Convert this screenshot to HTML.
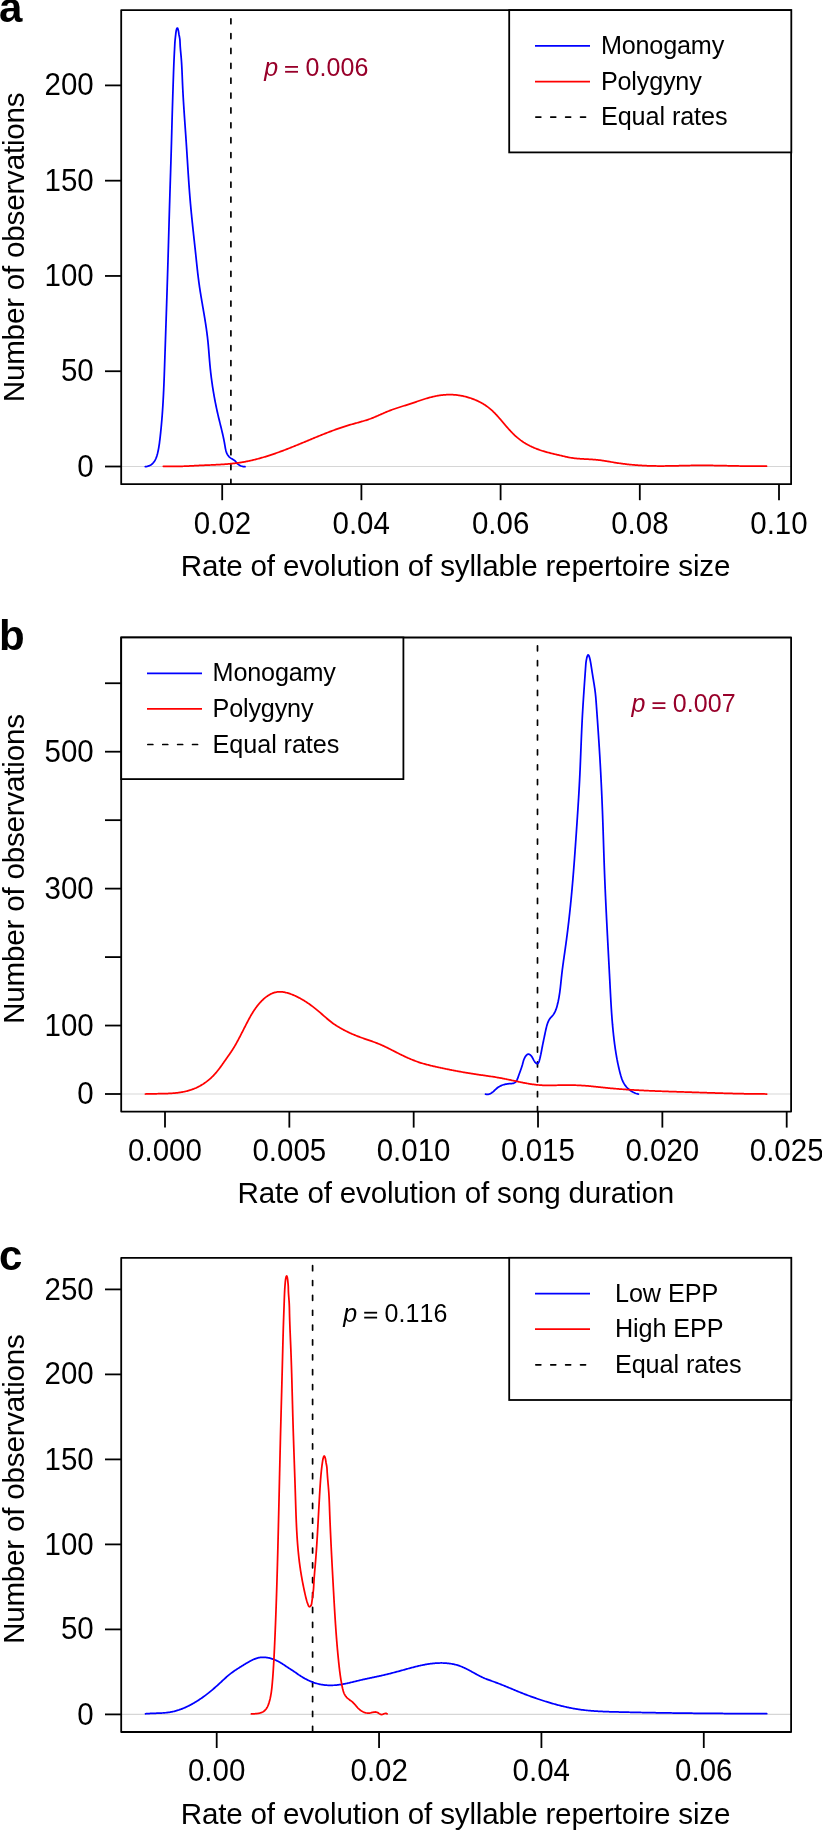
<!DOCTYPE html>
<html><head><meta charset="utf-8"><style>
html,body{margin:0;padding:0;background:#fff;}
svg{display:block;}
svg{will-change:transform;}
text{font-family:"Liberation Sans", sans-serif;font-kerning:none;}
</style></head><body>
<svg width="822" height="1830" viewBox="0 0 822 1830">
<rect width="822" height="1830" fill="#fff"/>
<line x1="121.20" y1="466.50" x2="791.10" y2="466.50" stroke="#d6d6d6" stroke-width="1.2"/>
<line x1="230.90" y1="18.75" x2="230.90" y2="484.20" stroke="#000" stroke-width="1.7" stroke-dasharray="5.0 9.86" stroke-linecap="round"/>
<path d="M145.29,466.60 L146.21,466.52 L147.08,466.38 L147.90,466.19 L148.68,465.94 L149.42,465.65 L150.13,465.31 L150.79,464.93 L151.41,464.50 L152.00,464.04 L152.56,463.53 L153.08,462.99 L153.57,462.42 L154.03,461.81 L154.46,461.18 L154.87,460.52 L155.24,459.83 L155.60,459.12 L155.93,458.39 L156.23,457.65 L156.52,456.88 L156.78,456.11 L157.03,455.32 L157.26,454.52 L157.48,453.71 L157.68,452.90 L157.87,452.09 L158.05,451.28 L158.22,450.46 L158.38,449.65 L158.53,448.85 L158.67,448.05 L158.81,447.25 L158.94,446.45 L159.06,445.66 L159.18,444.87 L159.30,444.09 L159.41,443.30 L159.51,442.52 L159.61,441.73 L159.71,440.95 L159.81,440.17 L159.90,439.39 L159.99,438.60 L160.08,437.82 L160.17,437.03 L160.26,436.25 L160.35,435.46 L160.43,434.67 L160.52,433.88 L160.60,433.09 L160.68,432.30 L160.76,431.51 L160.84,430.71 L160.92,429.92 L161.00,429.12 L161.08,428.33 L161.16,427.53 L161.23,426.74 L161.31,425.94 L161.38,425.14 L161.45,424.34 L161.52,423.54 L161.59,422.74 L161.66,421.94 L161.73,421.14 L161.80,420.34 L161.86,419.54 L161.93,418.74 L161.99,417.94 L162.05,417.14 L162.12,416.34 L162.18,415.53 L162.24,414.73 L162.30,413.93 L162.36,413.13 L162.41,412.33 L162.47,411.53 L162.52,410.73 L162.58,409.92 L162.63,409.12 L162.68,408.32 L162.74,407.52 L162.79,406.72 L162.84,405.92 L162.89,405.12 L162.93,404.32 L162.98,403.52 L163.03,402.71 L163.07,401.91 L163.12,401.11 L163.16,400.31 L163.21,399.51 L163.25,398.71 L163.29,397.91 L163.34,397.11 L163.38,396.31 L163.42,395.51 L163.46,394.71 L163.50,393.91 L163.53,393.11 L163.57,392.31 L163.61,391.51 L163.65,390.71 L163.68,389.91 L163.72,389.11 L163.75,388.31 L163.79,387.51 L163.82,386.71 L163.86,385.91 L163.89,385.10 L163.92,384.30 L163.95,383.50 L163.99,382.70 L164.02,381.90 L164.05,381.10 L164.08,380.30 L164.11,379.50 L164.14,378.70 L164.17,377.90 L164.20,377.10 L164.23,376.30 L164.26,375.51 L164.29,374.71 L164.31,373.91 L164.34,373.11 L164.37,372.31 L164.40,371.51 L164.43,370.71 L164.45,369.91 L164.48,369.11 L164.51,368.31 L164.54,367.51 L164.56,366.71 L164.59,365.91 L164.62,365.11 L164.64,364.31 L164.67,363.51 L164.70,362.71 L164.72,361.91 L164.75,361.11 L164.78,360.31 L164.80,359.51 L164.83,358.71 L164.86,357.91 L164.88,357.11 L164.91,356.31 L164.94,355.51 L164.96,354.71 L164.99,353.91 L165.02,353.10 L165.04,352.30 L165.07,351.50 L165.10,350.70 L165.12,349.90 L165.15,349.10 L165.18,348.30 L165.20,347.50 L165.23,346.70 L165.26,345.90 L165.29,345.10 L165.31,344.30 L165.34,343.50 L165.37,342.70 L165.39,341.90 L165.42,341.10 L165.45,340.30 L165.47,339.50 L165.50,338.70 L165.53,337.90 L165.55,337.10 L165.58,336.30 L165.61,335.50 L165.63,334.70 L165.66,333.90 L165.69,333.10 L165.71,332.30 L165.74,331.50 L165.76,330.70 L165.79,329.89 L165.82,329.09 L165.84,328.29 L165.87,327.49 L165.90,326.69 L165.92,325.89 L165.95,325.09 L165.98,324.29 L166.00,323.49 L166.03,322.69 L166.06,321.89 L166.08,321.09 L166.11,320.29 L166.14,319.49 L166.16,318.69 L166.19,317.89 L166.21,317.09 L166.24,316.28 L166.27,315.48 L166.29,314.68 L166.32,313.88 L166.35,313.08 L166.37,312.28 L166.40,311.48 L166.42,310.68 L166.45,309.88 L166.48,309.08 L166.50,308.28 L166.53,307.48 L166.55,306.68 L166.58,305.88 L166.61,305.08 L166.63,304.27 L166.66,303.47 L166.68,302.67 L166.71,301.87 L166.73,301.07 L166.76,300.27 L166.79,299.47 L166.81,298.67 L166.84,297.87 L166.86,297.07 L166.89,296.27 L166.91,295.47 L166.94,294.67 L166.97,293.87 L166.99,293.06 L167.02,292.26 L167.04,291.46 L167.07,290.66 L167.09,289.86 L167.12,289.06 L167.14,288.26 L167.17,287.46 L167.19,286.66 L167.22,285.86 L167.24,285.06 L167.27,284.26 L167.29,283.46 L167.32,282.65 L167.34,281.85 L167.37,281.05 L167.39,280.25 L167.42,279.45 L167.44,278.65 L167.47,277.85 L167.49,277.05 L167.52,276.25 L167.54,275.45 L167.57,274.65 L167.59,273.85 L167.61,273.05 L167.64,272.25 L167.66,271.44 L167.69,270.64 L167.71,269.84 L167.74,269.04 L167.76,268.24 L167.78,267.44 L167.81,266.64 L167.83,265.84 L167.86,265.04 L167.88,264.24 L167.90,263.44 L167.93,262.64 L167.95,261.84 L167.98,261.04 L168.00,260.23 L168.02,259.43 L168.05,258.63 L168.07,257.83 L168.09,257.03 L168.12,256.23 L168.14,255.43 L168.16,254.63 L168.19,253.83 L168.21,253.03 L168.23,252.23 L168.26,251.43 L168.28,250.63 L168.30,249.83 L168.32,249.03 L168.35,248.23 L168.37,247.42 L168.39,246.62 L168.42,245.82 L168.44,245.02 L168.46,244.22 L168.48,243.42 L168.51,242.62 L168.53,241.82 L168.55,241.02 L168.57,240.22 L168.60,239.42 L168.62,238.62 L168.64,237.82 L168.66,237.02 L168.69,236.22 L168.71,235.42 L168.73,234.62 L168.75,233.82 L168.78,233.02 L168.80,232.21 L168.82,231.41 L168.84,230.61 L168.87,229.81 L168.89,229.01 L168.91,228.21 L168.93,227.41 L168.96,226.61 L168.98,225.81 L169.00,225.01 L169.02,224.21 L169.05,223.41 L169.07,222.61 L169.09,221.81 L169.11,221.01 L169.14,220.21 L169.16,219.41 L169.18,218.61 L169.21,217.81 L169.23,217.00 L169.25,216.20 L169.27,215.40 L169.30,214.60 L169.32,213.80 L169.34,213.00 L169.37,212.20 L169.39,211.40 L169.41,210.60 L169.44,209.80 L169.46,209.00 L169.48,208.20 L169.51,207.40 L169.53,206.60 L169.55,205.80 L169.58,205.00 L169.60,204.20 L169.62,203.40 L169.65,202.60 L169.67,201.79 L169.70,200.99 L169.72,200.19 L169.74,199.39 L169.77,198.59 L169.79,197.79 L169.82,196.99 L169.84,196.19 L169.87,195.39 L169.89,194.59 L169.91,193.79 L169.94,192.99 L169.96,192.19 L169.99,191.39 L170.01,190.59 L170.04,189.79 L170.06,188.99 L170.09,188.19 L170.11,187.38 L170.14,186.58 L170.16,185.78 L170.19,184.98 L170.21,184.18 L170.24,183.38 L170.26,182.58 L170.29,181.78 L170.31,180.98 L170.34,180.18 L170.36,179.38 L170.39,178.58 L170.41,177.78 L170.44,176.98 L170.46,176.18 L170.49,175.37 L170.51,174.57 L170.54,173.77 L170.56,172.97 L170.59,172.17 L170.61,171.37 L170.64,170.57 L170.66,169.77 L170.69,168.97 L170.71,168.17 L170.73,167.37 L170.76,166.57 L170.78,165.77 L170.81,164.97 L170.83,164.17 L170.86,163.37 L170.88,162.56 L170.91,161.76 L170.93,160.96 L170.95,160.16 L170.98,159.36 L171.00,158.56 L171.03,157.76 L171.05,156.96 L171.08,156.16 L171.10,155.36 L171.12,154.56 L171.15,153.76 L171.17,152.96 L171.19,152.16 L171.22,151.35 L171.24,150.55 L171.26,149.75 L171.29,148.95 L171.31,148.15 L171.33,147.35 L171.36,146.55 L171.38,145.75 L171.40,144.95 L171.42,144.15 L171.45,143.35 L171.47,142.55 L171.49,141.75 L171.51,140.95 L171.53,140.15 L171.56,139.34 L171.58,138.54 L171.60,137.74 L171.62,136.94 L171.64,136.14 L171.66,135.34 L171.69,134.54 L171.71,133.74 L171.73,132.94 L171.75,132.14 L171.77,131.34 L171.79,130.54 L171.81,129.74 L171.84,128.94 L171.86,128.14 L171.88,127.33 L171.90,126.53 L171.92,125.73 L171.94,124.93 L171.96,124.13 L171.99,123.33 L172.01,122.53 L172.03,121.73 L172.05,120.93 L172.07,120.13 L172.09,119.33 L172.12,118.53 L172.14,117.73 L172.16,116.93 L172.18,116.13 L172.21,115.33 L172.23,114.53 L172.25,113.73 L172.27,112.92 L172.30,112.12 L172.32,111.32 L172.34,110.52 L172.37,109.72 L172.39,108.92 L172.41,108.12 L172.44,107.32 L172.46,106.52 L172.48,105.72 L172.51,104.92 L172.53,104.12 L172.56,103.32 L172.58,102.52 L172.61,101.72 L172.63,100.92 L172.65,100.12 L172.68,99.32 L172.70,98.52 L172.73,97.72 L172.75,96.92 L172.78,96.12 L172.80,95.32 L172.83,94.51 L172.85,93.71 L172.88,92.91 L172.90,92.11 L172.93,91.31 L172.96,90.51 L172.98,89.71 L173.01,88.91 L173.03,88.11 L173.06,87.31 L173.08,86.51 L173.11,85.71 L173.13,84.91 L173.16,84.11 L173.19,83.30 L173.21,82.50 L173.24,81.70 L173.26,80.90 L173.29,80.10 L173.31,79.30 L173.34,78.50 L173.37,77.70 L173.39,76.90 L173.42,76.10 L173.45,75.29 L173.47,74.49 L173.50,73.69 L173.53,72.89 L173.55,72.09 L173.58,71.29 L173.61,70.49 L173.64,69.69 L173.67,68.89 L173.70,68.09 L173.73,67.29 L173.76,66.49 L173.79,65.69 L173.82,64.89 L173.85,64.09 L173.88,63.29 L173.92,62.49 L173.95,61.69 L173.98,60.89 L174.02,60.09 L174.05,59.29 L174.09,58.49 L174.13,57.69 L174.16,56.90 L174.20,56.10 L174.24,55.30 L174.28,54.50 L174.32,53.70 L174.36,52.91 L174.40,52.11 L174.44,51.31 L174.49,50.51 L174.53,49.71 L174.57,48.91 L174.61,48.10 L174.65,47.30 L174.69,46.49 L174.73,45.68 L174.77,44.87 L174.81,44.06 L174.86,43.26 L174.91,42.46 L174.97,41.68 L175.03,40.90 L175.10,40.12 L175.17,39.36 L175.25,38.59 L175.34,37.81 L175.42,37.02 L175.52,36.22 L175.61,35.39 L175.71,34.53 L175.80,33.63 L175.91,32.72 L176.04,31.81 L176.19,30.90 L176.38,30.02 L176.61,29.17 L176.88,28.47 L177.18,28.06 L177.48,28.09 L177.77,28.54 L178.03,29.27 L178.26,30.13 L178.44,31.03 L178.59,31.96 L178.73,32.89 L178.86,33.80 L179.00,34.67 L179.16,35.50 L179.32,36.28 L179.49,37.05 L179.63,37.81 L179.74,38.58 L179.84,39.36 L179.91,40.15 L179.96,40.95 L180.00,41.75 L180.04,42.55 L180.07,43.36 L180.11,44.17 L180.15,44.97 L180.19,45.78 L180.24,46.58 L180.30,47.38 L180.36,48.18 L180.42,48.98 L180.49,49.78 L180.56,50.58 L180.63,51.38 L180.71,52.18 L180.78,52.97 L180.85,53.77 L180.93,54.57 L181.00,55.36 L181.07,56.16 L181.14,56.96 L181.21,57.75 L181.27,58.55 L181.34,59.35 L181.40,60.15 L181.45,60.94 L181.51,61.74 L181.56,62.54 L181.61,63.34 L181.66,64.14 L181.70,64.94 L181.75,65.74 L181.79,66.54 L181.83,67.34 L181.87,68.14 L181.91,68.94 L181.95,69.74 L181.99,70.54 L182.02,71.34 L182.06,72.14 L182.09,72.94 L182.12,73.74 L182.15,74.54 L182.19,75.34 L182.22,76.14 L182.25,76.94 L182.28,77.74 L182.31,78.54 L182.35,79.34 L182.38,80.15 L182.41,80.95 L182.44,81.75 L182.48,82.55 L182.51,83.35 L182.55,84.15 L182.58,84.95 L182.62,85.75 L182.66,86.55 L182.69,87.35 L182.73,88.15 L182.77,88.95 L182.81,89.75 L182.85,90.55 L182.89,91.35 L182.93,92.15 L182.98,92.95 L183.02,93.75 L183.06,94.55 L183.11,95.35 L183.15,96.15 L183.20,96.95 L183.24,97.75 L183.29,98.55 L183.34,99.35 L183.38,100.15 L183.43,100.95 L183.48,101.75 L183.53,102.55 L183.58,103.34 L183.63,104.14 L183.68,104.94 L183.73,105.74 L183.78,106.54 L183.83,107.34 L183.88,108.14 L183.93,108.94 L183.99,109.74 L184.04,110.54 L184.09,111.34 L184.14,112.14 L184.20,112.93 L184.25,113.73 L184.31,114.53 L184.36,115.33 L184.41,116.13 L184.47,116.93 L184.52,117.73 L184.58,118.53 L184.63,119.33 L184.69,120.12 L184.74,120.92 L184.80,121.72 L184.85,122.52 L184.91,123.32 L184.97,124.12 L185.02,124.92 L185.08,125.72 L185.13,126.52 L185.19,127.31 L185.24,128.11 L185.30,128.91 L185.36,129.71 L185.41,130.51 L185.47,131.31 L185.52,132.11 L185.58,132.91 L185.63,133.71 L185.69,134.50 L185.75,135.30 L185.80,136.10 L185.86,136.90 L185.91,137.70 L185.96,138.50 L186.02,139.30 L186.07,140.10 L186.13,140.90 L186.18,141.70 L186.24,142.49 L186.29,143.29 L186.34,144.09 L186.39,144.89 L186.45,145.69 L186.50,146.49 L186.55,147.29 L186.60,148.09 L186.66,148.89 L186.71,149.69 L186.76,150.49 L186.81,151.29 L186.86,152.09 L186.91,152.89 L186.96,153.69 L187.01,154.49 L187.06,155.29 L187.11,156.09 L187.16,156.89 L187.21,157.68 L187.26,158.48 L187.32,159.28 L187.37,160.08 L187.42,160.88 L187.47,161.68 L187.52,162.48 L187.57,163.28 L187.62,164.08 L187.67,164.88 L187.72,165.68 L187.77,166.48 L187.82,167.28 L187.87,168.08 L187.92,168.88 L187.97,169.68 L188.02,170.48 L188.08,171.28 L188.13,172.08 L188.18,172.88 L188.23,173.68 L188.28,174.48 L188.34,175.28 L188.39,176.08 L188.44,176.88 L188.50,177.67 L188.55,178.47 L188.60,179.27 L188.66,180.07 L188.71,180.87 L188.77,181.67 L188.82,182.47 L188.88,183.27 L188.93,184.07 L188.99,184.87 L189.05,185.67 L189.11,186.47 L189.16,187.26 L189.22,188.06 L189.28,188.86 L189.34,189.66 L189.40,190.46 L189.46,191.26 L189.52,192.06 L189.58,192.86 L189.64,193.65 L189.71,194.45 L189.77,195.25 L189.83,196.05 L189.90,196.85 L189.96,197.65 L190.03,198.44 L190.09,199.24 L190.16,200.04 L190.23,200.84 L190.30,201.63 L190.36,202.43 L190.43,203.23 L190.50,204.03 L190.58,204.83 L190.65,205.62 L190.72,206.42 L190.79,207.22 L190.87,208.01 L190.94,208.81 L191.02,209.61 L191.09,210.41 L191.17,211.20 L191.24,212.00 L191.32,212.80 L191.40,213.59 L191.48,214.39 L191.56,215.19 L191.64,215.98 L191.71,216.78 L191.80,217.58 L191.88,218.37 L191.96,219.17 L192.04,219.97 L192.12,220.76 L192.20,221.56 L192.28,222.36 L192.37,223.15 L192.45,223.95 L192.53,224.74 L192.62,225.54 L192.70,226.34 L192.79,227.13 L192.87,227.93 L192.96,228.73 L193.04,229.52 L193.13,230.32 L193.21,231.11 L193.30,231.91 L193.38,232.71 L193.47,233.50 L193.56,234.30 L193.64,235.09 L193.73,235.89 L193.82,236.69 L193.90,237.48 L193.99,238.28 L194.08,239.08 L194.16,239.87 L194.25,240.67 L194.34,241.46 L194.42,242.26 L194.51,243.06 L194.60,243.85 L194.68,244.65 L194.77,245.45 L194.86,246.24 L194.94,247.04 L195.03,247.83 L195.11,248.63 L195.20,249.43 L195.29,250.22 L195.37,251.02 L195.46,251.82 L195.54,252.61 L195.63,253.41 L195.71,254.21 L195.80,255.01 L195.88,255.80 L195.96,256.60 L196.05,257.40 L196.13,258.19 L196.21,258.99 L196.30,259.79 L196.38,260.58 L196.46,261.38 L196.55,262.18 L196.63,262.98 L196.72,263.77 L196.80,264.57 L196.89,265.37 L196.97,266.16 L197.06,266.96 L197.15,267.76 L197.23,268.55 L197.32,269.35 L197.41,270.15 L197.50,270.94 L197.59,271.74 L197.68,272.53 L197.77,273.33 L197.86,274.12 L197.96,274.92 L198.05,275.72 L198.15,276.51 L198.25,277.31 L198.35,278.10 L198.45,278.89 L198.55,279.69 L198.65,280.48 L198.75,281.28 L198.86,282.07 L198.97,282.86 L199.07,283.66 L199.18,284.45 L199.30,285.24 L199.41,286.03 L199.53,286.83 L199.64,287.62 L199.76,288.41 L199.88,289.20 L200.00,289.99 L200.13,290.78 L200.25,291.57 L200.38,292.36 L200.50,293.15 L200.63,293.94 L200.76,294.73 L200.89,295.52 L201.02,296.31 L201.15,297.10 L201.28,297.89 L201.41,298.68 L201.55,299.47 L201.68,300.26 L201.81,301.05 L201.95,301.84 L202.08,302.63 L202.22,303.42 L202.36,304.21 L202.49,304.99 L202.63,305.78 L202.76,306.57 L202.90,307.36 L203.03,308.15 L203.17,308.94 L203.31,309.73 L203.44,310.52 L203.58,311.31 L203.71,312.10 L203.84,312.89 L203.98,313.68 L204.11,314.47 L204.24,315.26 L204.38,316.05 L204.51,316.84 L204.64,317.63 L204.77,318.42 L204.89,319.21 L205.02,320.00 L205.15,320.79 L205.27,321.58 L205.40,322.37 L205.52,323.17 L205.64,323.96 L205.77,324.75 L205.89,325.54 L206.00,326.33 L206.12,327.13 L206.24,327.92 L206.35,328.71 L206.46,329.50 L206.57,330.30 L206.68,331.09 L206.79,331.88 L206.90,332.68 L207.00,333.47 L207.10,334.27 L207.20,335.06 L207.30,335.86 L207.40,336.65 L207.49,337.45 L207.58,338.24 L207.67,339.04 L207.76,339.83 L207.84,340.63 L207.93,341.43 L208.01,342.22 L208.09,343.02 L208.16,343.82 L208.24,344.61 L208.31,345.41 L208.38,346.21 L208.45,347.01 L208.52,347.81 L208.59,348.60 L208.65,349.40 L208.72,350.20 L208.78,351.00 L208.85,351.80 L208.91,352.60 L208.97,353.39 L209.04,354.19 L209.10,354.99 L209.16,355.79 L209.23,356.59 L209.29,357.39 L209.35,358.19 L209.42,358.99 L209.48,359.78 L209.55,360.58 L209.62,361.38 L209.69,362.18 L209.76,362.98 L209.83,363.78 L209.90,364.58 L209.97,365.37 L210.05,366.17 L210.13,366.97 L210.20,367.77 L210.28,368.56 L210.37,369.36 L210.45,370.16 L210.54,370.95 L210.63,371.75 L210.71,372.55 L210.81,373.34 L210.90,374.14 L210.99,374.93 L211.09,375.73 L211.19,376.53 L211.29,377.32 L211.39,378.12 L211.49,378.91 L211.60,379.70 L211.70,380.50 L211.81,381.29 L211.92,382.09 L212.03,382.88 L212.14,383.67 L212.26,384.47 L212.38,385.26 L212.49,386.05 L212.61,386.84 L212.73,387.63 L212.86,388.43 L212.98,389.22 L213.11,390.01 L213.24,390.80 L213.37,391.59 L213.50,392.38 L213.63,393.17 L213.77,393.96 L213.91,394.74 L214.04,395.53 L214.18,396.32 L214.33,397.11 L214.47,397.90 L214.61,398.68 L214.76,399.47 L214.91,400.26 L215.06,401.04 L215.21,401.83 L215.36,402.61 L215.52,403.40 L215.68,404.18 L215.84,404.97 L216.00,405.75 L216.16,406.53 L216.32,407.32 L216.49,408.10 L216.65,408.88 L216.82,409.66 L216.99,410.44 L217.16,411.22 L217.34,412.00 L217.51,412.78 L217.69,413.56 L217.87,414.34 L218.05,415.12 L218.23,415.90 L218.41,416.68 L218.60,417.45 L218.78,418.23 L218.97,419.01 L219.16,419.78 L219.35,420.56 L219.54,421.33 L219.73,422.11 L219.93,422.88 L220.12,423.66 L220.31,424.43 L220.50,425.21 L220.70,425.99 L220.89,426.76 L221.08,427.54 L221.27,428.32 L221.46,429.09 L221.65,429.87 L221.84,430.65 L222.02,431.43 L222.21,432.21 L222.39,432.99 L222.57,433.77 L222.75,434.56 L222.92,435.34 L223.10,436.13 L223.27,436.91 L223.44,437.70 L223.60,438.49 L223.77,439.28 L223.93,440.07 L224.08,440.86 L224.23,441.66 L224.38,442.45 L224.53,443.25 L224.67,444.05 L224.80,444.85 L224.94,445.65 L225.07,446.46 L225.21,447.25 L225.35,448.05 L225.50,448.84 L225.67,449.62 L225.86,450.39 L226.07,451.14 L226.30,451.89 L226.56,452.61 L226.85,453.32 L227.18,454.01 L227.55,454.68 L227.95,455.32 L228.41,455.94 L228.91,456.53 L229.47,457.09 L230.08,457.62 L230.75,458.12 L231.48,458.58 L232.25,459.03 L233.02,459.46 L233.76,459.92 L234.45,460.41 L235.05,460.94 L235.58,461.51 L236.07,462.11 L236.55,462.70 L237.05,463.29 L237.60,463.84 L238.21,464.36 L238.87,464.83 L239.57,465.26 L240.30,465.64 L241.06,465.97 L241.84,466.24 L242.63,466.45 L243.42,466.60 L244.22,466.69 L245.00,466.70" fill="none" stroke="#0000ff" stroke-width="1.75" stroke-linejoin="round" stroke-linecap="round"/>
<path d="M163.30,466.29 L164.11,466.33 L164.92,466.36 L165.73,466.39 L166.54,466.41 L167.34,466.43 L168.15,466.45 L168.96,466.46 L169.76,466.47 L170.57,466.48 L171.37,466.48 L172.17,466.48 L172.97,466.48 L173.77,466.47 L174.58,466.47 L175.38,466.46 L176.18,466.45 L176.97,466.43 L177.77,466.42 L178.57,466.40 L179.37,466.38 L180.17,466.35 L180.96,466.33 L181.76,466.30 L182.56,466.28 L183.35,466.25 L184.15,466.22 L184.94,466.18 L185.74,466.15 L186.53,466.12 L187.33,466.08 L188.13,466.05 L188.92,466.01 L189.72,465.97 L190.51,465.93 L191.31,465.89 L192.10,465.85 L192.90,465.81 L193.69,465.77 L194.49,465.73 L195.29,465.69 L196.08,465.65 L196.88,465.61 L197.68,465.57 L198.48,465.53 L199.27,465.49 L200.07,465.46 L200.87,465.42 L201.67,465.38 L202.47,465.34 L203.27,465.31 L204.07,465.27 L204.88,465.24 L205.68,465.20 L206.48,465.17 L207.28,465.13 L208.09,465.10 L208.89,465.07 L209.69,465.03 L210.50,465.00 L211.30,464.96 L212.11,464.93 L212.91,464.89 L213.72,464.85 L214.52,464.82 L215.33,464.78 L216.13,464.74 L216.94,464.70 L217.74,464.66 L218.55,464.61 L219.35,464.57 L220.16,464.52 L220.96,464.47 L221.76,464.43 L222.57,464.37 L223.37,464.32 L224.17,464.27 L224.98,464.21 L225.78,464.15 L226.58,464.09 L227.39,464.02 L228.19,463.96 L228.99,463.89 L229.79,463.81 L230.59,463.74 L231.39,463.66 L232.19,463.58 L232.98,463.49 L233.78,463.41 L234.58,463.31 L235.37,463.22 L236.17,463.12 L236.96,463.02 L237.76,462.91 L238.55,462.80 L239.34,462.69 L240.13,462.57 L240.92,462.45 L241.71,462.32 L242.50,462.19 L243.29,462.06 L244.07,461.92 L244.86,461.77 L245.64,461.63 L246.43,461.48 L247.21,461.32 L247.99,461.16 L248.77,461.00 L249.55,460.83 L250.33,460.66 L251.11,460.49 L251.89,460.31 L252.67,460.13 L253.44,459.95 L254.22,459.76 L254.99,459.57 L255.77,459.38 L256.54,459.18 L257.31,458.98 L258.08,458.77 L258.85,458.57 L259.62,458.36 L260.39,458.14 L261.16,457.93 L261.93,457.71 L262.70,457.48 L263.46,457.26 L264.23,457.03 L264.99,456.80 L265.76,456.57 L266.52,456.33 L267.28,456.09 L268.05,455.85 L268.81,455.61 L269.57,455.36 L270.33,455.11 L271.09,454.86 L271.85,454.61 L272.61,454.35 L273.36,454.09 L274.12,453.83 L274.88,453.57 L275.63,453.31 L276.39,453.04 L277.15,452.77 L277.90,452.50 L278.65,452.23 L279.41,451.96 L280.16,451.68 L280.91,451.40 L281.67,451.12 L282.42,450.84 L283.17,450.56 L283.92,450.28 L284.67,449.99 L285.42,449.70 L286.17,449.41 L286.92,449.12 L287.67,448.83 L288.42,448.54 L289.16,448.25 L289.91,447.95 L290.66,447.65 L291.40,447.36 L292.15,447.06 L292.90,446.76 L293.64,446.46 L294.39,446.16 L295.13,445.86 L295.88,445.55 L296.62,445.25 L297.37,444.95 L298.11,444.64 L298.85,444.34 L299.60,444.03 L300.34,443.72 L301.08,443.42 L301.82,443.11 L302.57,442.80 L303.31,442.49 L304.05,442.19 L304.79,441.88 L305.53,441.57 L306.27,441.26 L307.01,440.95 L307.75,440.64 L308.50,440.33 L309.24,440.03 L309.98,439.72 L310.72,439.41 L311.46,439.10 L312.20,438.79 L312.94,438.49 L313.68,438.18 L314.41,437.87 L315.15,437.56 L315.89,437.26 L316.63,436.95 L317.37,436.65 L318.11,436.35 L318.85,436.04 L319.59,435.74 L320.33,435.44 L321.07,435.14 L321.81,434.84 L322.56,434.54 L323.30,434.24 L324.04,433.95 L324.78,433.65 L325.52,433.36 L326.27,433.07 L327.01,432.77 L327.75,432.48 L328.50,432.20 L329.24,431.91 L329.99,431.62 L330.73,431.34 L331.48,431.06 L332.23,430.78 L332.97,430.50 L333.72,430.22 L334.47,429.95 L335.22,429.67 L335.97,429.40 L336.72,429.13 L337.48,428.87 L338.23,428.60 L338.98,428.34 L339.74,428.08 L340.49,427.82 L341.25,427.56 L342.01,427.31 L342.77,427.06 L343.53,426.81 L344.29,426.57 L345.05,426.32 L345.82,426.08 L346.58,425.84 L347.35,425.61 L348.11,425.38 L348.88,425.15 L349.65,424.92 L350.42,424.70 L351.19,424.48 L351.97,424.26 L352.74,424.04 L353.51,423.83 L354.29,423.61 L355.07,423.40 L355.84,423.19 L356.62,422.98 L357.39,422.76 L358.17,422.55 L358.95,422.34 L359.72,422.12 L360.50,421.90 L361.27,421.68 L362.04,421.46 L362.82,421.24 L363.59,421.01 L364.36,420.78 L365.12,420.54 L365.89,420.30 L366.65,420.06 L367.42,419.81 L368.18,419.55 L368.93,419.29 L369.69,419.02 L370.44,418.75 L371.19,418.46 L371.94,418.18 L372.69,417.88 L373.43,417.59 L374.17,417.28 L374.91,416.97 L375.65,416.66 L376.39,416.35 L377.12,416.03 L377.86,415.71 L378.59,415.39 L379.32,415.06 L380.06,414.74 L380.79,414.41 L381.52,414.09 L382.25,413.76 L382.99,413.44 L383.72,413.12 L384.46,412.80 L385.19,412.48 L385.93,412.16 L386.66,411.85 L387.40,411.54 L388.14,411.24 L388.88,410.94 L389.63,410.64 L390.37,410.35 L391.12,410.07 L391.87,409.79 L392.62,409.52 L393.38,409.25 L394.13,408.98 L394.89,408.72 L395.64,408.46 L396.40,408.21 L397.16,407.96 L397.93,407.71 L398.69,407.47 L399.45,407.22 L400.22,406.98 L400.98,406.74 L401.74,406.50 L402.51,406.26 L403.28,406.03 L404.04,405.79 L404.81,405.55 L405.57,405.31 L406.34,405.07 L407.10,404.83 L407.87,404.59 L408.63,404.35 L409.40,404.10 L410.16,403.86 L410.92,403.61 L411.69,403.35 L412.45,403.10 L413.21,402.84 L413.97,402.58 L414.73,402.32 L415.48,402.06 L416.24,401.80 L417.00,401.54 L417.76,401.28 L418.52,401.02 L419.28,400.76 L420.04,400.50 L420.80,400.25 L421.56,399.99 L422.32,399.74 L423.08,399.49 L423.85,399.25 L424.61,399.00 L425.38,398.76 L426.14,398.53 L426.91,398.30 L427.68,398.08 L428.45,397.86 L429.22,397.64 L430.00,397.44 L430.77,397.23 L431.55,397.04 L432.33,396.85 L433.11,396.66 L433.89,396.49 L434.67,396.32 L435.46,396.16 L436.24,396.00 L437.03,395.85 L437.82,395.71 L438.60,395.58 L439.39,395.46 L440.18,395.34 L440.98,395.23 L441.77,395.13 L442.56,395.04 L443.36,394.96 L444.15,394.89 L444.95,394.82 L445.74,394.77 L446.54,394.73 L447.34,394.69 L448.14,394.67 L448.94,394.65 L449.73,394.65 L450.53,394.65 L451.33,394.67 L452.13,394.70 L452.93,394.73 L453.73,394.78 L454.53,394.84 L455.33,394.91 L456.13,394.99 L456.93,395.07 L457.73,395.17 L458.52,395.28 L459.32,395.40 L460.11,395.53 L460.91,395.66 L461.70,395.81 L462.49,395.97 L463.28,396.13 L464.06,396.31 L464.85,396.49 L465.63,396.69 L466.41,396.89 L467.18,397.10 L467.96,397.32 L468.73,397.55 L469.50,397.79 L470.27,398.04 L471.03,398.29 L471.79,398.56 L472.54,398.83 L473.29,399.11 L474.04,399.41 L474.79,399.71 L475.53,400.01 L476.26,400.33 L476.99,400.66 L477.72,400.99 L478.44,401.34 L479.16,401.69 L479.87,402.05 L480.58,402.42 L481.28,402.81 L481.98,403.19 L482.66,403.59 L483.35,404.00 L484.03,404.42 L484.70,404.84 L485.36,405.28 L486.02,405.72 L486.67,406.18 L487.32,406.64 L487.96,407.11 L488.59,407.59 L489.21,408.08 L489.82,408.58 L490.43,409.09 L491.03,409.61 L491.63,410.14 L492.21,410.67 L492.79,411.21 L493.37,411.76 L493.94,412.32 L494.50,412.89 L495.06,413.46 L495.61,414.03 L496.16,414.61 L496.71,415.20 L497.25,415.79 L497.79,416.39 L498.32,416.99 L498.85,417.59 L499.38,418.20 L499.91,418.80 L500.43,419.42 L500.96,420.03 L501.48,420.65 L502.00,421.26 L502.52,421.88 L503.05,422.50 L503.57,423.12 L504.09,423.73 L504.61,424.35 L505.13,424.97 L505.66,425.58 L506.19,426.20 L506.71,426.81 L507.24,427.42 L507.78,428.03 L508.31,428.63 L508.85,429.23 L509.39,429.83 L509.93,430.42 L510.48,431.02 L511.03,431.60 L511.58,432.18 L512.14,432.76 L512.71,433.33 L513.27,433.90 L513.84,434.45 L514.42,435.01 L515.00,435.56 L515.59,436.10 L516.18,436.63 L516.78,437.15 L517.38,437.67 L518.00,438.18 L518.61,438.68 L519.24,439.18 L519.87,439.66 L520.50,440.14 L521.15,440.60 L521.80,441.06 L522.45,441.51 L523.12,441.95 L523.78,442.39 L524.46,442.81 L525.14,443.23 L525.82,443.64 L526.51,444.04 L527.21,444.43 L527.90,444.82 L528.61,445.19 L529.32,445.56 L530.03,445.93 L530.75,446.28 L531.47,446.63 L532.20,446.97 L532.93,447.30 L533.66,447.62 L534.39,447.94 L535.13,448.25 L535.88,448.55 L536.62,448.85 L537.37,449.14 L538.12,449.42 L538.88,449.69 L539.64,449.96 L540.39,450.22 L541.16,450.48 L541.92,450.72 L542.68,450.97 L543.45,451.20 L544.22,451.43 L544.99,451.66 L545.76,451.88 L546.53,452.09 L547.31,452.30 L548.08,452.51 L548.86,452.71 L549.64,452.91 L550.41,453.11 L551.19,453.30 L551.97,453.49 L552.75,453.68 L553.53,453.86 L554.31,454.05 L555.09,454.23 L555.88,454.42 L556.66,454.60 L557.44,454.78 L558.22,454.96 L559.00,455.14 L559.78,455.33 L560.56,455.51 L561.34,455.70 L562.12,455.88 L562.90,456.07 L563.68,456.26 L564.46,456.44 L565.23,456.62 L566.01,456.80 L566.79,456.97 L567.58,457.14 L568.36,457.30 L569.14,457.46 L569.93,457.60 L570.71,457.74 L571.50,457.87 L572.29,457.98 L573.08,458.09 L573.88,458.19 L574.67,458.29 L575.47,458.38 L576.26,458.46 L577.06,458.53 L577.86,458.60 L578.66,458.67 L579.46,458.73 L580.26,458.78 L581.06,458.84 L581.86,458.89 L582.66,458.93 L583.46,458.98 L584.26,459.02 L585.06,459.07 L585.86,459.11 L586.66,459.15 L587.46,459.19 L588.26,459.24 L589.06,459.28 L589.87,459.32 L590.67,459.37 L591.47,459.42 L592.26,459.47 L593.06,459.53 L593.86,459.59 L594.66,459.65 L595.46,459.72 L596.26,459.79 L597.05,459.87 L597.85,459.95 L598.64,460.04 L599.44,460.14 L600.23,460.24 L601.02,460.34 L601.82,460.45 L602.61,460.57 L603.40,460.69 L604.19,460.81 L604.98,460.93 L605.77,461.06 L606.56,461.19 L607.35,461.32 L608.14,461.45 L608.93,461.58 L609.72,461.72 L610.51,461.85 L611.30,461.99 L612.09,462.12 L612.88,462.25 L613.67,462.39 L614.47,462.52 L615.26,462.64 L616.05,462.77 L616.84,462.89 L617.63,463.01 L618.43,463.13 L619.22,463.25 L620.01,463.36 L620.80,463.47 L621.60,463.58 L622.39,463.68 L623.19,463.79 L623.98,463.89 L624.78,463.98 L625.57,464.08 L626.37,464.17 L627.17,464.26 L627.96,464.35 L628.76,464.44 L629.56,464.52 L630.35,464.60 L631.15,464.68 L631.95,464.75 L632.75,464.83 L633.54,464.90 L634.34,464.97 L635.14,465.03 L635.94,465.10 L636.74,465.16 L637.54,465.22 L638.34,465.28 L639.14,465.33 L639.94,465.39 L640.74,465.44 L641.54,465.48 L642.34,465.53 L643.14,465.58 L643.94,465.62 L644.74,465.66 L645.54,465.69 L646.34,465.73 L647.14,465.76 L647.94,465.79 L648.74,465.82 L649.54,465.85 L650.34,465.88 L651.14,465.90 L651.94,465.92 L652.75,465.94 L653.55,465.96 L654.35,465.97 L655.15,465.98 L655.95,465.99 L656.75,466.00 L657.55,466.01 L658.35,466.02 L659.15,466.02 L659.96,466.02 L660.76,466.02 L661.56,466.02 L662.36,466.02 L663.16,466.01 L663.96,466.01 L664.76,466.00 L665.56,465.99 L666.36,465.99 L667.17,465.97 L667.97,465.96 L668.77,465.95 L669.57,465.94 L670.37,465.93 L671.17,465.91 L671.97,465.90 L672.77,465.88 L673.57,465.86 L674.38,465.85 L675.18,465.83 L675.98,465.81 L676.78,465.79 L677.58,465.77 L678.38,465.76 L679.18,465.74 L679.98,465.72 L680.78,465.70 L681.58,465.68 L682.39,465.66 L683.19,465.64 L683.99,465.62 L684.79,465.61 L685.59,465.59 L686.39,465.57 L687.19,465.56 L687.99,465.54 L688.79,465.52 L689.60,465.51 L690.40,465.50 L691.20,465.48 L692.00,465.47 L692.80,465.46 L693.60,465.45 L694.40,465.44 L695.20,465.43 L696.00,465.42 L696.81,465.42 L697.61,465.41 L698.41,465.41 L699.21,465.41 L700.01,465.40 L700.81,465.40 L701.61,465.40 L702.41,465.40 L703.21,465.41 L704.01,465.41 L704.82,465.41 L705.62,465.42 L706.42,465.42 L707.22,465.43 L708.02,465.43 L708.82,465.44 L709.62,465.45 L710.42,465.46 L711.22,465.47 L712.03,465.48 L712.83,465.49 L713.63,465.50 L714.43,465.51 L715.23,465.52 L716.03,465.54 L716.83,465.55 L717.63,465.56 L718.43,465.58 L719.23,465.59 L720.04,465.61 L720.84,465.62 L721.64,465.64 L722.44,465.65 L723.24,465.67 L724.04,465.69 L724.84,465.70 L725.64,465.72 L726.44,465.73 L727.25,465.75 L728.05,465.77 L728.85,465.79 L729.65,465.80 L730.45,465.82 L731.25,465.84 L732.05,465.85 L732.85,465.87 L733.65,465.89 L734.46,465.90 L735.26,465.92 L736.06,465.94 L736.86,465.95 L737.66,465.97 L738.46,465.99 L739.26,466.00 L740.06,466.02 L740.86,466.03 L741.66,466.05 L742.47,466.06 L743.27,466.08 L744.07,466.09 L744.87,466.10 L745.67,466.11 L746.47,466.13 L747.27,466.14 L748.07,466.15 L748.87,466.16 L749.68,466.17 L750.48,466.18 L751.28,466.19 L752.08,466.20 L752.88,466.20 L753.68,466.21 L754.48,466.22 L755.28,466.22 L756.08,466.23 L756.89,466.23 L757.69,466.23 L758.49,466.23 L759.29,466.24 L760.09,466.24 L760.89,466.23 L761.69,466.23 L762.49,466.23 L763.30,466.23 L764.10,466.22 L764.90,466.22 L765.70,466.21 L766.50,466.20" fill="none" stroke="#ff0000" stroke-width="1.75" stroke-linejoin="round" stroke-linecap="round"/>
<rect x="121.20" y="10.10" width="669.90" height="474.10" fill="none" stroke="#000" stroke-width="1.8" stroke-linejoin="round"/>
<line x1="105.0" y1="466.50" x2="121.20" y2="466.50" stroke="#000" stroke-width="1.8"/>
<text x="77.33" y="476.61" font-size="29.5" fill="#000" font-weight="normal" transform="matrix(1 0 0 1.055 0 -26.213)">0</text>
<line x1="105.0" y1="371.23" x2="121.20" y2="371.23" stroke="#000" stroke-width="1.8"/>
<text x="60.96" y="381.33" font-size="29.5" fill="#000" font-weight="normal" transform="matrix(1 0 0 1.055 0 -20.973)">50</text>
<line x1="105.0" y1="275.95" x2="121.20" y2="275.95" stroke="#000" stroke-width="1.8"/>
<text x="44.52" y="286.06" font-size="29.5" fill="#000" font-weight="normal" transform="matrix(1 0 0 1.055 0 -15.733)">100</text>
<line x1="105.0" y1="180.68" x2="121.20" y2="180.68" stroke="#000" stroke-width="1.8"/>
<text x="44.52" y="190.78" font-size="29.5" fill="#000" font-weight="normal" transform="matrix(1 0 0 1.055 0 -10.493)">150</text>
<line x1="105.0" y1="85.40" x2="121.20" y2="85.40" stroke="#000" stroke-width="1.8"/>
<text x="44.52" y="95.51" font-size="29.5" fill="#000" font-weight="normal" transform="matrix(1 0 0 1.055 0 -5.253)">200</text>
<line x1="222.20" y1="484.20" x2="222.20" y2="500.20" stroke="#000" stroke-width="1.8"/>
<text x="193.66" y="533.60" font-size="29.5" fill="#000" font-weight="normal" transform="matrix(1 0 0 1.055 0 -29.348)">0.02</text>
<line x1="361.40" y1="484.20" x2="361.40" y2="500.20" stroke="#000" stroke-width="1.8"/>
<text x="332.53" y="533.60" font-size="29.5" fill="#000" font-weight="normal" transform="matrix(1 0 0 1.055 0 -29.348)">0.04</text>
<line x1="500.60" y1="484.20" x2="500.60" y2="500.20" stroke="#000" stroke-width="1.8"/>
<text x="471.95" y="533.60" font-size="29.5" fill="#000" font-weight="normal" transform="matrix(1 0 0 1.055 0 -29.348)">0.06</text>
<line x1="639.80" y1="484.20" x2="639.80" y2="500.20" stroke="#000" stroke-width="1.8"/>
<text x="611.15" y="533.60" font-size="29.5" fill="#000" font-weight="normal" transform="matrix(1 0 0 1.055 0 -29.348)">0.08</text>
<line x1="779.00" y1="484.20" x2="779.00" y2="500.20" stroke="#000" stroke-width="1.8"/>
<text x="750.27" y="533.60" font-size="29.5" fill="#000" font-weight="normal" transform="matrix(1 0 0 1.055 0 -29.348)">0.10</text>
<text x="180.76" y="575.90" font-size="29.6" fill="#000" font-weight="normal" textLength="549.64" lengthAdjust="spacing" >Rate of evolution of syllable repertoire size</text>
<text x="-155.64" y="0.00" font-size="29.6" fill="#000" font-weight="normal" textLength="309.85" lengthAdjust="spacing" transform="translate(23.9,246.60) rotate(-90)">Number of observations</text>
<text x="-1.00" y="22.30" font-size="42" font-weight="bold">a</text>
<g transform="translate(0.00,0.00)" fill="#98002a">
<text x="264.23" y="76.1" font-size="25.0" font-style="italic">p</text>
<rect x="285.1" y="66.00" width="12.9" height="1.8"/>
<rect x="285.1" y="70.90" width="12.9" height="1.8"/>
<text x="305.40" y="76.04" font-size="25.0" textLength="62.98" lengthAdjust="spacing" transform="matrix(1 0 0 1.034 0 -2.585)">0.006</text>
</g>
<rect x="509.20" y="10.10" width="282.10" height="142.30" fill="#fff" stroke="#000" stroke-width="1.8"/>
<line x1="535.00" y1="45.90" x2="590.00" y2="45.90" stroke="#0000ff" stroke-width="1.75"/>
<text x="600.92" y="53.90" font-size="25.2" fill="#000" font-weight="normal" textLength="123.33" lengthAdjust="spacing" >Monogamy</text>
<line x1="535.00" y1="81.50" x2="590.00" y2="81.50" stroke="#ff0000" stroke-width="1.75"/>
<text x="600.92" y="89.50" font-size="25.2" fill="#000" font-weight="normal" textLength="100.85" lengthAdjust="spacing" >Polygyny</text>
<line x1="535.85" y1="117.10" x2="587.70" y2="117.10" stroke="#000" stroke-width="1.7" stroke-dasharray="5.0 9.9" stroke-linecap="round"/>
<text x="600.92" y="125.10" font-size="25.2" fill="#000" font-weight="normal" textLength="126.63" lengthAdjust="spacing" >Equal rates</text>
<line x1="121.20" y1="1094.00" x2="791.10" y2="1094.00" stroke="#ebebeb" stroke-width="2.2"/>
<line x1="537.50" y1="645.85" x2="537.50" y2="1111.60" stroke="#000" stroke-width="1.7" stroke-dasharray="5.0 9.86" stroke-linecap="round"/>
<path d="M485.50,1094.20 L486.43,1094.34 L487.31,1094.37 L488.14,1094.30 L488.93,1094.14 L489.68,1093.91 L490.39,1093.60 L491.08,1093.23 L491.73,1092.80 L492.37,1092.33 L492.99,1091.82 L493.60,1091.29 L494.19,1090.74 L494.79,1090.17 L495.38,1089.61 L495.98,1089.05 L496.58,1088.51 L497.20,1088.00 L497.84,1087.52 L498.49,1087.07 L499.16,1086.65 L499.84,1086.27 L500.54,1085.92 L501.25,1085.60 L501.97,1085.30 L502.71,1085.03 L503.45,1084.78 L504.20,1084.56 L504.96,1084.36 L505.73,1084.18 L506.52,1084.02 L507.32,1083.89 L508.13,1083.78 L508.97,1083.70 L509.83,1083.64 L510.70,1083.59 L511.56,1083.54 L512.39,1083.45 L513.19,1083.30 L513.93,1083.08 L514.60,1082.77 L515.20,1082.36 L515.73,1081.86 L516.21,1081.29 L516.63,1080.65 L517.01,1079.96 L517.35,1079.23 L517.67,1078.46 L517.96,1077.67 L518.24,1076.87 L518.51,1076.07 L518.78,1075.27 L519.05,1074.49 L519.32,1073.72 L519.60,1072.96 L519.87,1072.21 L520.15,1071.46 L520.42,1070.72 L520.69,1069.98 L520.95,1069.25 L521.21,1068.51 L521.46,1067.77 L521.71,1067.03 L521.95,1066.28 L522.18,1065.52 L522.40,1064.75 L522.60,1063.97 L522.81,1063.19 L523.02,1062.40 L523.24,1061.61 L523.47,1060.82 L523.72,1060.04 L524.00,1059.27 L524.31,1058.51 L524.67,1057.77 L525.06,1057.05 L525.52,1056.36 L526.02,1055.69 L526.59,1055.06 L527.22,1054.55 L527.88,1054.21 L528.56,1054.11 L529.26,1054.28 L529.95,1054.67 L530.61,1055.22 L531.21,1055.87 L531.73,1056.55 L532.18,1057.25 L532.58,1057.95 L532.95,1058.67 L533.32,1059.40 L533.71,1060.13 L534.14,1060.87 L534.64,1061.61 L535.22,1062.33 L535.84,1062.97 L536.47,1063.44 L537.08,1063.67 L537.64,1063.60 L538.13,1063.22 L538.56,1062.60 L538.94,1061.79 L539.27,1060.85 L539.56,1059.84 L539.82,1058.81 L540.04,1057.83 L540.23,1056.96 L540.40,1056.20 L540.56,1055.51 L540.71,1054.85 L540.86,1054.20 L541.00,1053.51 L541.15,1052.79 L541.29,1052.04 L541.44,1051.28 L541.59,1050.49 L541.74,1049.69 L541.89,1048.89 L542.04,1048.08 L542.19,1047.28 L542.35,1046.48 L542.50,1045.68 L542.66,1044.89 L542.82,1044.10 L542.98,1043.32 L543.14,1042.53 L543.30,1041.75 L543.47,1040.97 L543.63,1040.19 L543.79,1039.42 L543.95,1038.64 L544.12,1037.86 L544.28,1037.08 L544.44,1036.30 L544.60,1035.52 L544.77,1034.74 L544.93,1033.96 L545.09,1033.17 L545.25,1032.38 L545.42,1031.60 L545.59,1030.81 L545.76,1030.02 L545.94,1029.24 L546.12,1028.45 L546.31,1027.67 L546.51,1026.89 L546.72,1026.12 L546.94,1025.34 L547.18,1024.57 L547.42,1023.81 L547.68,1023.05 L547.95,1022.30 L548.25,1021.56 L548.58,1020.83 L548.95,1020.12 L549.35,1019.43 L549.81,1018.77 L550.31,1018.13 L550.85,1017.51 L551.42,1016.90 L551.98,1016.30 L552.52,1015.68 L553.03,1015.04 L553.50,1014.39 L553.94,1013.72 L554.35,1013.04 L554.72,1012.34 L555.08,1011.63 L555.41,1010.91 L555.71,1010.17 L556.00,1009.43 L556.26,1008.68 L556.51,1007.93 L556.75,1007.16 L556.97,1006.40 L557.18,1005.63 L557.38,1004.85 L557.58,1004.08 L557.76,1003.30 L557.94,1002.52 L558.12,1001.74 L558.28,1000.96 L558.44,1000.18 L558.60,999.40 L558.75,998.61 L558.89,997.83 L559.03,997.04 L559.16,996.25 L559.29,995.46 L559.41,994.67 L559.53,993.88 L559.65,993.09 L559.76,992.30 L559.87,991.50 L559.97,990.71 L560.07,989.91 L560.17,989.12 L560.27,988.32 L560.36,987.52 L560.45,986.73 L560.54,985.93 L560.63,985.13 L560.71,984.33 L560.80,983.53 L560.88,982.74 L560.97,981.94 L561.05,981.14 L561.13,980.34 L561.22,979.54 L561.30,978.74 L561.39,977.94 L561.47,977.14 L561.56,976.35 L561.65,975.55 L561.73,974.75 L561.83,973.95 L561.92,973.15 L562.01,972.36 L562.11,971.56 L562.20,970.77 L562.30,969.97 L562.40,969.17 L562.50,968.38 L562.61,967.58 L562.71,966.79 L562.82,965.99 L562.92,965.20 L563.03,964.41 L563.14,963.61 L563.24,962.82 L563.35,962.02 L563.46,961.23 L563.57,960.44 L563.69,959.65 L563.80,958.85 L563.91,958.06 L564.02,957.27 L564.13,956.47 L564.25,955.68 L564.36,954.89 L564.47,954.10 L564.59,953.30 L564.70,952.51 L564.81,951.72 L564.93,950.92 L565.04,950.13 L565.15,949.34 L565.26,948.55 L565.38,947.75 L565.49,946.96 L565.60,946.17 L565.71,945.37 L565.82,944.58 L565.93,943.79 L566.04,942.99 L566.14,942.20 L566.25,941.41 L566.36,940.61 L566.46,939.82 L566.57,939.02 L566.67,938.23 L566.78,937.44 L566.88,936.64 L566.98,935.85 L567.08,935.05 L567.19,934.26 L567.29,933.46 L567.39,932.67 L567.49,931.87 L567.59,931.08 L567.68,930.28 L567.78,929.49 L567.88,928.69 L567.98,927.89 L568.07,927.10 L568.17,926.30 L568.26,925.51 L568.36,924.71 L568.45,923.92 L568.54,923.12 L568.64,922.32 L568.73,921.53 L568.82,920.73 L568.91,919.93 L569.00,919.14 L569.09,918.34 L569.18,917.54 L569.27,916.75 L569.36,915.95 L569.45,915.15 L569.53,914.36 L569.62,913.56 L569.71,912.76 L569.79,911.97 L569.88,911.17 L569.96,910.37 L570.05,909.57 L570.13,908.78 L570.21,907.98 L570.30,907.18 L570.38,906.38 L570.46,905.59 L570.54,904.79 L570.62,903.99 L570.70,903.19 L570.78,902.40 L570.86,901.60 L570.94,900.80 L571.02,900.00 L571.09,899.21 L571.17,898.41 L571.25,897.61 L571.32,896.81 L571.40,896.01 L571.47,895.22 L571.55,894.42 L571.62,893.62 L571.70,892.82 L571.77,892.02 L571.84,891.23 L571.92,890.43 L571.99,889.63 L572.06,888.83 L572.13,888.03 L572.20,887.24 L572.27,886.44 L572.34,885.64 L572.41,884.84 L572.48,884.04 L572.55,883.24 L572.62,882.45 L572.68,881.65 L572.75,880.85 L572.82,880.05 L572.89,879.25 L572.95,878.45 L573.02,877.66 L573.08,876.86 L573.15,876.06 L573.21,875.26 L573.28,874.46 L573.34,873.66 L573.41,872.87 L573.47,872.07 L573.53,871.27 L573.60,870.47 L573.66,869.67 L573.72,868.87 L573.78,868.07 L573.84,867.28 L573.91,866.48 L573.97,865.68 L574.03,864.88 L574.09,864.08 L574.15,863.28 L574.21,862.48 L574.27,861.69 L574.33,860.89 L574.39,860.09 L574.45,859.29 L574.51,858.49 L574.56,857.69 L574.62,856.89 L574.68,856.09 L574.74,855.29 L574.80,854.50 L574.86,853.70 L574.91,852.90 L574.97,852.10 L575.03,851.30 L575.08,850.50 L575.14,849.70 L575.20,848.90 L575.25,848.10 L575.31,847.30 L575.37,846.50 L575.42,845.71 L575.48,844.91 L575.54,844.11 L575.59,843.31 L575.65,842.51 L575.70,841.71 L575.76,840.91 L575.81,840.11 L575.87,839.31 L575.92,838.51 L575.98,837.71 L576.04,836.91 L576.09,836.11 L576.15,835.31 L576.20,834.51 L576.26,833.71 L576.31,832.92 L576.37,832.12 L576.42,831.32 L576.48,830.52 L576.53,829.72 L576.58,828.92 L576.64,828.12 L576.69,827.32 L576.75,826.52 L576.80,825.72 L576.86,824.92 L576.91,824.12 L576.97,823.32 L577.02,822.52 L577.07,821.72 L577.13,820.92 L577.18,820.12 L577.24,819.32 L577.29,818.52 L577.34,817.72 L577.40,816.92 L577.45,816.12 L577.50,815.32 L577.55,814.52 L577.61,813.72 L577.66,812.92 L577.71,812.12 L577.76,811.32 L577.82,810.52 L577.87,809.72 L577.92,808.92 L577.97,808.12 L578.02,807.32 L578.07,806.52 L578.12,805.72 L578.17,804.92 L578.22,804.12 L578.27,803.32 L578.32,802.51 L578.37,801.71 L578.42,800.91 L578.47,800.11 L578.52,799.31 L578.57,798.51 L578.62,797.71 L578.66,796.91 L578.71,796.11 L578.76,795.31 L578.81,794.51 L578.85,793.71 L578.90,792.91 L578.94,792.11 L578.99,791.31 L579.04,790.51 L579.08,789.71 L579.13,788.91 L579.17,788.11 L579.21,787.31 L579.26,786.51 L579.30,785.71 L579.34,784.91 L579.39,784.11 L579.43,783.31 L579.47,782.51 L579.51,781.71 L579.55,780.91 L579.59,780.11 L579.63,779.31 L579.67,778.51 L579.71,777.71 L579.75,776.91 L579.79,776.11 L579.83,775.31 L579.86,774.51 L579.90,773.71 L579.94,772.91 L579.97,772.11 L580.01,771.32 L580.05,770.52 L580.08,769.72 L580.12,768.92 L580.15,768.12 L580.19,767.32 L580.22,766.52 L580.25,765.72 L580.29,764.92 L580.32,764.12 L580.35,763.32 L580.39,762.52 L580.42,761.72 L580.45,760.92 L580.48,760.12 L580.52,759.32 L580.55,758.52 L580.58,757.72 L580.61,756.92 L580.64,756.12 L580.68,755.32 L580.71,754.52 L580.74,753.72 L580.77,752.92 L580.80,752.12 L580.83,751.32 L580.86,750.52 L580.89,749.72 L580.93,748.92 L580.96,748.12 L580.99,747.32 L581.02,746.52 L581.05,745.72 L581.08,744.92 L581.12,744.12 L581.15,743.32 L581.18,742.52 L581.21,741.72 L581.24,740.92 L581.28,740.12 L581.31,739.32 L581.34,738.52 L581.37,737.72 L581.41,736.92 L581.44,736.12 L581.47,735.32 L581.51,734.52 L581.54,733.72 L581.58,732.92 L581.61,732.12 L581.65,731.32 L581.68,730.51 L581.72,729.71 L581.75,728.91 L581.79,728.11 L581.83,727.31 L581.86,726.51 L581.90,725.71 L581.94,724.90 L581.98,724.10 L582.02,723.30 L582.06,722.50 L582.10,721.70 L582.14,720.89 L582.18,720.09 L582.22,719.29 L582.26,718.49 L582.30,717.69 L582.35,716.88 L582.39,716.08 L582.43,715.28 L582.48,714.48 L582.52,713.67 L582.57,712.87 L582.62,712.07 L582.66,711.27 L582.71,710.46 L582.75,709.66 L582.80,708.86 L582.85,708.06 L582.90,707.25 L582.95,706.45 L583.00,705.65 L583.04,704.85 L583.09,704.04 L583.14,703.24 L583.19,702.44 L583.24,701.64 L583.30,700.84 L583.35,700.04 L583.40,699.24 L583.45,698.44 L583.50,697.63 L583.55,696.83 L583.61,696.03 L583.66,695.23 L583.71,694.43 L583.77,693.64 L583.82,692.84 L583.87,692.04 L583.93,691.24 L583.98,690.44 L584.03,689.64 L584.09,688.85 L584.14,688.05 L584.20,687.25 L584.25,686.45 L584.31,685.66 L584.36,684.86 L584.42,684.07 L584.47,683.27 L584.53,682.48 L584.58,681.68 L584.64,680.89 L584.70,680.10 L584.75,679.30 L584.81,678.51 L584.86,677.72 L584.92,676.93 L584.98,676.14 L585.03,675.35 L585.09,674.56 L585.14,673.77 L585.20,672.98 L585.25,672.19 L585.31,671.40 L585.37,670.62 L585.42,669.83 L585.48,669.04 L585.53,668.26 L585.59,667.47 L585.64,666.69 L585.70,665.91 L585.76,665.12 L585.82,664.33 L585.89,663.53 L585.97,662.70 L586.08,661.85 L586.20,660.97 L586.36,660.05 L586.54,659.08 L586.76,658.07 L587.01,657.09 L587.29,656.21 L587.58,655.50 L587.90,655.05 L588.22,654.91 L588.55,655.14 L588.87,655.68 L589.19,656.45 L589.49,657.36 L589.76,658.35 L589.99,659.32 L590.19,660.22 L590.36,661.06 L590.50,661.85 L590.64,662.63 L590.77,663.41 L590.90,664.20 L591.03,664.98 L591.16,665.76 L591.28,666.55 L591.41,667.33 L591.53,668.12 L591.65,668.90 L591.77,669.69 L591.89,670.48 L592.01,671.26 L592.14,672.05 L592.26,672.84 L592.38,673.63 L592.50,674.42 L592.63,675.21 L592.75,676.00 L592.88,676.79 L593.01,677.58 L593.14,678.37 L593.27,679.16 L593.40,679.96 L593.53,680.75 L593.66,681.54 L593.79,682.33 L593.92,683.12 L594.05,683.92 L594.17,684.71 L594.30,685.50 L594.42,686.30 L594.54,687.09 L594.66,687.88 L594.78,688.68 L594.89,689.47 L594.99,690.27 L595.10,691.06 L595.20,691.86 L595.29,692.65 L595.38,693.45 L595.47,694.25 L595.55,695.04 L595.63,695.84 L595.71,696.64 L595.78,697.44 L595.85,698.23 L595.91,699.03 L595.98,699.83 L596.04,700.63 L596.10,701.43 L596.16,702.23 L596.22,703.02 L596.28,703.82 L596.34,704.62 L596.40,705.42 L596.45,706.22 L596.51,707.02 L596.57,707.82 L596.62,708.62 L596.68,709.42 L596.74,710.22 L596.80,711.01 L596.85,711.81 L596.91,712.61 L596.97,713.41 L597.02,714.21 L597.08,715.01 L597.14,715.81 L597.19,716.61 L597.25,717.41 L597.30,718.21 L597.36,719.01 L597.42,719.80 L597.47,720.60 L597.53,721.40 L597.58,722.20 L597.64,723.00 L597.69,723.80 L597.75,724.60 L597.80,725.40 L597.86,726.20 L597.91,727.00 L597.97,727.80 L598.02,728.60 L598.08,729.40 L598.13,730.20 L598.19,731.00 L598.24,731.79 L598.29,732.59 L598.35,733.39 L598.40,734.19 L598.45,734.99 L598.51,735.79 L598.56,736.59 L598.61,737.39 L598.66,738.19 L598.72,738.99 L598.77,739.79 L598.82,740.59 L598.87,741.39 L598.92,742.19 L598.97,742.99 L599.03,743.79 L599.08,744.59 L599.13,745.39 L599.18,746.19 L599.23,746.99 L599.28,747.79 L599.33,748.59 L599.38,749.39 L599.43,750.19 L599.48,750.99 L599.52,751.79 L599.57,752.59 L599.62,753.39 L599.67,754.19 L599.72,754.99 L599.77,755.78 L599.81,756.58 L599.86,757.38 L599.91,758.18 L599.95,758.98 L600.00,759.78 L600.05,760.58 L600.09,761.38 L600.14,762.18 L600.18,762.98 L600.23,763.78 L600.27,764.58 L600.32,765.38 L600.36,766.18 L600.41,766.98 L600.45,767.78 L600.49,768.58 L600.54,769.38 L600.58,770.18 L600.62,770.98 L600.66,771.78 L600.71,772.59 L600.75,773.39 L600.79,774.19 L600.83,774.99 L600.87,775.79 L600.91,776.59 L600.95,777.39 L600.99,778.19 L601.03,778.99 L601.07,779.79 L601.11,780.59 L601.15,781.39 L601.19,782.19 L601.23,782.99 L601.27,783.79 L601.31,784.59 L601.35,785.39 L601.38,786.19 L601.42,786.99 L601.46,787.79 L601.50,788.59 L601.53,789.39 L601.57,790.19 L601.61,790.99 L601.64,791.79 L601.68,792.59 L601.71,793.39 L601.75,794.19 L601.78,794.99 L601.82,795.79 L601.85,796.59 L601.89,797.39 L601.92,798.20 L601.96,799.00 L601.99,799.80 L602.02,800.60 L602.06,801.40 L602.09,802.20 L602.12,803.00 L602.15,803.80 L602.19,804.60 L602.22,805.40 L602.25,806.20 L602.28,807.00 L602.31,807.80 L602.35,808.60 L602.38,809.40 L602.41,810.20 L602.44,811.01 L602.47,811.81 L602.50,812.61 L602.53,813.41 L602.56,814.21 L602.59,815.01 L602.62,815.81 L602.65,816.61 L602.67,817.41 L602.70,818.21 L602.73,819.01 L602.76,819.81 L602.79,820.61 L602.81,821.42 L602.84,822.22 L602.87,823.02 L602.90,823.82 L602.92,824.62 L602.95,825.42 L602.98,826.22 L603.00,827.02 L603.03,827.82 L603.06,828.62 L603.08,829.42 L603.11,830.23 L603.14,831.03 L603.16,831.83 L603.19,832.63 L603.21,833.43 L603.24,834.23 L603.26,835.03 L603.29,835.83 L603.32,836.63 L603.34,837.43 L603.37,838.24 L603.39,839.04 L603.42,839.84 L603.44,840.64 L603.47,841.44 L603.49,842.24 L603.52,843.04 L603.54,843.84 L603.57,844.64 L603.59,845.44 L603.62,846.25 L603.64,847.05 L603.67,847.85 L603.69,848.65 L603.72,849.45 L603.75,850.25 L603.77,851.05 L603.80,851.85 L603.82,852.65 L603.85,853.45 L603.87,854.26 L603.90,855.06 L603.93,855.86 L603.95,856.66 L603.98,857.46 L604.01,858.26 L604.03,859.06 L604.06,859.86 L604.09,860.66 L604.11,861.46 L604.14,862.26 L604.17,863.07 L604.20,863.87 L604.22,864.67 L604.25,865.47 L604.28,866.27 L604.31,867.07 L604.34,867.87 L604.37,868.67 L604.40,869.47 L604.43,870.27 L604.46,871.07 L604.49,871.87 L604.52,872.67 L604.55,873.48 L604.58,874.28 L604.61,875.08 L604.64,875.88 L604.67,876.68 L604.70,877.48 L604.73,878.28 L604.77,879.08 L604.80,879.88 L604.83,880.68 L604.86,881.48 L604.90,882.28 L604.93,883.08 L604.96,883.88 L605.00,884.68 L605.03,885.48 L605.06,886.28 L605.10,887.09 L605.13,887.89 L605.17,888.69 L605.20,889.49 L605.24,890.29 L605.27,891.09 L605.31,891.89 L605.34,892.69 L605.38,893.49 L605.41,894.29 L605.45,895.09 L605.48,895.89 L605.52,896.69 L605.56,897.49 L605.59,898.29 L605.63,899.09 L605.67,899.89 L605.70,900.69 L605.74,901.49 L605.78,902.29 L605.82,903.09 L605.85,903.89 L605.89,904.69 L605.93,905.49 L605.97,906.29 L606.01,907.10 L606.04,907.90 L606.08,908.70 L606.12,909.50 L606.16,910.30 L606.20,911.10 L606.24,911.90 L606.28,912.70 L606.32,913.50 L606.36,914.30 L606.40,915.10 L606.44,915.90 L606.48,916.70 L606.51,917.50 L606.55,918.30 L606.59,919.10 L606.63,919.90 L606.68,920.70 L606.72,921.50 L606.76,922.30 L606.80,923.10 L606.84,923.90 L606.88,924.70 L606.92,925.50 L606.96,926.30 L607.00,927.10 L607.04,927.90 L607.08,928.70 L607.12,929.50 L607.17,930.30 L607.21,931.10 L607.25,931.90 L607.29,932.70 L607.33,933.50 L607.37,934.30 L607.41,935.10 L607.46,935.90 L607.50,936.70 L607.54,937.50 L607.58,938.30 L607.62,939.10 L607.66,939.90 L607.71,940.70 L607.75,941.50 L607.79,942.30 L607.83,943.11 L607.88,943.91 L607.92,944.71 L607.96,945.51 L608.00,946.31 L608.04,947.11 L608.09,947.91 L608.13,948.71 L608.17,949.51 L608.21,950.31 L608.26,951.11 L608.30,951.91 L608.34,952.71 L608.38,953.51 L608.42,954.31 L608.47,955.11 L608.51,955.91 L608.55,956.71 L608.59,957.51 L608.64,958.31 L608.68,959.11 L608.72,959.91 L608.76,960.71 L608.80,961.51 L608.85,962.31 L608.89,963.11 L608.93,963.91 L608.97,964.71 L609.02,965.51 L609.06,966.31 L609.10,967.11 L609.14,967.91 L609.18,968.71 L609.23,969.51 L609.27,970.31 L609.31,971.12 L609.35,971.92 L609.39,972.72 L609.43,973.52 L609.48,974.32 L609.52,975.12 L609.56,975.92 L609.60,976.72 L609.64,977.52 L609.68,978.32 L609.72,979.12 L609.77,979.92 L609.81,980.72 L609.85,981.52 L609.89,982.32 L609.93,983.12 L609.97,983.92 L610.01,984.72 L610.05,985.52 L610.09,986.32 L610.13,987.12 L610.17,987.93 L610.21,988.73 L610.26,989.53 L610.30,990.33 L610.34,991.13 L610.38,991.93 L610.42,992.73 L610.46,993.53 L610.51,994.33 L610.55,995.13 L610.59,995.93 L610.63,996.73 L610.68,997.53 L610.72,998.33 L610.77,999.13 L610.81,999.93 L610.85,1000.73 L610.90,1001.53 L610.95,1002.33 L610.99,1003.13 L611.04,1003.93 L611.09,1004.73 L611.14,1005.53 L611.18,1006.33 L611.23,1007.13 L611.28,1007.93 L611.33,1008.73 L611.39,1009.53 L611.44,1010.33 L611.49,1011.13 L611.54,1011.93 L611.60,1012.73 L611.65,1013.53 L611.71,1014.33 L611.77,1015.12 L611.82,1015.92 L611.88,1016.72 L611.94,1017.52 L612.00,1018.32 L612.06,1019.12 L612.13,1019.92 L612.19,1020.71 L612.26,1021.51 L612.32,1022.31 L612.39,1023.11 L612.46,1023.91 L612.52,1024.70 L612.60,1025.50 L612.67,1026.30 L612.74,1027.10 L612.81,1027.89 L612.89,1028.69 L612.96,1029.49 L613.04,1030.29 L613.12,1031.08 L613.20,1031.88 L613.28,1032.68 L613.37,1033.47 L613.45,1034.27 L613.54,1035.06 L613.63,1035.86 L613.71,1036.66 L613.80,1037.45 L613.90,1038.25 L613.99,1039.04 L614.09,1039.84 L614.18,1040.63 L614.28,1041.43 L614.38,1042.22 L614.48,1043.02 L614.59,1043.81 L614.69,1044.61 L614.80,1045.40 L614.91,1046.19 L615.02,1046.99 L615.13,1047.78 L615.25,1048.57 L615.36,1049.37 L615.48,1050.16 L615.61,1050.95 L615.73,1051.74 L615.85,1052.53 L615.98,1053.33 L616.11,1054.12 L616.25,1054.91 L616.38,1055.70 L616.52,1056.49 L616.66,1057.28 L616.80,1058.07 L616.95,1058.86 L617.09,1059.64 L617.25,1060.43 L617.40,1061.22 L617.55,1062.01 L617.71,1062.80 L617.88,1063.58 L618.04,1064.37 L618.21,1065.15 L618.38,1065.94 L618.55,1066.72 L618.73,1067.51 L618.91,1068.29 L619.09,1069.08 L619.28,1069.86 L619.47,1070.64 L619.66,1071.42 L619.86,1072.20 L620.06,1072.98 L620.27,1073.76 L620.48,1074.54 L620.70,1075.31 L620.92,1076.08 L621.16,1076.85 L621.41,1077.61 L621.67,1078.36 L621.94,1079.11 L622.23,1079.85 L622.54,1080.58 L622.86,1081.30 L623.20,1082.01 L623.56,1082.72 L623.94,1083.41 L624.34,1084.08 L624.76,1084.75 L625.21,1085.40 L625.69,1086.03 L626.19,1086.66 L626.72,1087.26 L627.28,1087.85 L627.86,1088.42 L628.46,1088.97 L629.09,1089.50 L629.73,1090.01 L630.39,1090.50 L631.07,1090.96 L631.77,1091.40 L632.48,1091.81 L633.19,1092.20 L633.92,1092.56 L634.66,1092.90 L635.40,1093.20 L636.15,1093.47 L636.90,1093.71 L637.65,1093.92 L638.40,1094.10" fill="none" stroke="#0000ff" stroke-width="1.75" stroke-linejoin="round" stroke-linecap="round"/>
<path d="M145.40,1094.00 L146.18,1093.97 L146.97,1093.94 L147.75,1093.92 L148.54,1093.89 L149.33,1093.87 L150.12,1093.85 L150.91,1093.84 L151.70,1093.82 L152.50,1093.81 L153.30,1093.80 L154.10,1093.78 L154.90,1093.77 L155.70,1093.76 L156.51,1093.76 L157.31,1093.75 L158.12,1093.74 L158.93,1093.73 L159.73,1093.72 L160.54,1093.70 L161.35,1093.69 L162.16,1093.68 L162.97,1093.66 L163.78,1093.64 L164.59,1093.62 L165.40,1093.60 L166.21,1093.57 L167.02,1093.54 L167.83,1093.51 L168.64,1093.47 L169.45,1093.43 L170.26,1093.39 L171.07,1093.34 L171.88,1093.28 L172.68,1093.23 L173.49,1093.16 L174.29,1093.09 L175.10,1093.02 L175.90,1092.94 L176.70,1092.85 L177.50,1092.76 L178.30,1092.66 L179.09,1092.55 L179.88,1092.44 L180.68,1092.32 L181.47,1092.19 L182.25,1092.05 L183.04,1091.90 L183.82,1091.75 L184.60,1091.59 L185.38,1091.42 L186.15,1091.23 L186.93,1091.04 L187.69,1090.84 L188.46,1090.63 L189.22,1090.41 L189.98,1090.18 L190.74,1089.94 L191.49,1089.68 L192.24,1089.42 L192.99,1089.14 L193.73,1088.86 L194.47,1088.56 L195.20,1088.25 L195.93,1087.93 L196.65,1087.59 L197.38,1087.25 L198.09,1086.90 L198.80,1086.53 L199.51,1086.16 L200.21,1085.78 L200.90,1085.38 L201.59,1084.98 L202.28,1084.56 L202.96,1084.14 L203.63,1083.70 L204.29,1083.26 L204.95,1082.81 L205.61,1082.34 L206.26,1081.87 L206.90,1081.39 L207.53,1080.90 L208.16,1080.40 L208.78,1079.89 L209.39,1079.38 L210.00,1078.85 L210.59,1078.32 L211.18,1077.78 L211.77,1077.23 L212.34,1076.67 L212.91,1076.10 L213.46,1075.53 L214.01,1074.95 L214.56,1074.36 L215.09,1073.77 L215.62,1073.16 L216.14,1072.56 L216.66,1071.94 L217.16,1071.32 L217.67,1070.70 L218.17,1070.07 L218.66,1069.44 L219.15,1068.80 L219.63,1068.16 L220.11,1067.51 L220.59,1066.86 L221.06,1066.21 L221.53,1065.56 L222.00,1064.91 L222.47,1064.25 L222.93,1063.59 L223.39,1062.93 L223.85,1062.27 L224.31,1061.61 L224.77,1060.95 L225.23,1060.29 L225.69,1059.63 L226.15,1058.97 L226.61,1058.31 L227.07,1057.66 L227.53,1057.00 L227.99,1056.35 L228.45,1055.69 L228.91,1055.04 L229.37,1054.38 L229.83,1053.72 L230.28,1053.07 L230.73,1052.41 L231.18,1051.75 L231.62,1051.08 L232.06,1050.42 L232.50,1049.75 L232.93,1049.08 L233.35,1048.41 L233.77,1047.73 L234.19,1047.05 L234.60,1046.36 L235.00,1045.67 L235.40,1044.98 L235.80,1044.29 L236.19,1043.59 L236.58,1042.89 L236.96,1042.19 L237.34,1041.49 L237.72,1040.79 L238.10,1040.08 L238.48,1039.37 L238.85,1038.66 L239.22,1037.96 L239.59,1037.25 L239.96,1036.53 L240.33,1035.82 L240.70,1035.11 L241.06,1034.40 L241.43,1033.69 L241.79,1032.97 L242.15,1032.26 L242.52,1031.54 L242.88,1030.83 L243.24,1030.11 L243.61,1029.40 L243.97,1028.68 L244.33,1027.97 L244.70,1027.26 L245.06,1026.54 L245.42,1025.83 L245.79,1025.12 L246.15,1024.40 L246.52,1023.69 L246.89,1022.98 L247.26,1022.27 L247.63,1021.56 L248.00,1020.85 L248.37,1020.15 L248.75,1019.44 L249.13,1018.74 L249.51,1018.03 L249.90,1017.33 L250.29,1016.64 L250.68,1015.94 L251.08,1015.25 L251.49,1014.56 L251.90,1013.87 L252.31,1013.19 L252.73,1012.50 L253.16,1011.83 L253.59,1011.15 L254.03,1010.48 L254.47,1009.81 L254.93,1009.15 L255.39,1008.49 L255.85,1007.83 L256.33,1007.18 L256.82,1006.54 L257.31,1005.90 L257.81,1005.26 L258.33,1004.63 L258.85,1004.00 L259.38,1003.38 L259.93,1002.77 L260.48,1002.16 L261.04,1001.56 L261.62,1000.97 L262.20,1000.38 L262.79,999.81 L263.39,999.25 L264.01,998.71 L264.63,998.17 L265.26,997.65 L265.89,997.15 L266.54,996.66 L267.20,996.19 L267.86,995.74 L268.53,995.31 L269.21,994.90 L269.90,994.51 L270.59,994.14 L271.30,993.80 L272.01,993.47 L272.72,993.18 L273.45,992.91 L274.18,992.67 L274.92,992.46 L275.66,992.27 L276.41,992.12 L277.17,991.99 L277.94,991.90 L278.70,991.84 L279.48,991.81 L280.26,991.81 L281.04,991.84 L281.83,991.90 L282.62,991.98 L283.41,992.09 L284.20,992.22 L284.99,992.37 L285.78,992.55 L286.58,992.74 L287.37,992.95 L288.16,993.18 L288.94,993.42 L289.72,993.68 L290.50,993.95 L291.28,994.24 L292.05,994.54 L292.81,994.84 L293.57,995.16 L294.32,995.48 L295.06,995.81 L295.80,996.16 L296.54,996.50 L297.27,996.86 L297.99,997.23 L298.71,997.60 L299.43,997.97 L300.13,998.36 L300.84,998.75 L301.54,999.14 L302.23,999.54 L302.92,999.95 L303.61,1000.36 L304.29,1000.78 L304.97,1001.20 L305.64,1001.63 L306.31,1002.06 L306.97,1002.49 L307.63,1002.93 L308.29,1003.38 L308.95,1003.83 L309.60,1004.29 L310.24,1004.75 L310.89,1005.21 L311.53,1005.68 L312.16,1006.15 L312.80,1006.63 L313.43,1007.11 L314.06,1007.60 L314.68,1008.08 L315.31,1008.58 L315.93,1009.08 L316.54,1009.58 L317.16,1010.08 L317.77,1010.59 L318.38,1011.10 L318.99,1011.62 L319.60,1012.14 L320.21,1012.66 L320.81,1013.19 L321.41,1013.72 L322.02,1014.25 L322.62,1014.78 L323.22,1015.31 L323.82,1015.84 L324.43,1016.37 L325.03,1016.90 L325.64,1017.43 L326.25,1017.96 L326.86,1018.48 L327.47,1019.00 L328.08,1019.52 L328.70,1020.03 L329.32,1020.54 L329.95,1021.04 L330.58,1021.54 L331.21,1022.03 L331.85,1022.51 L332.49,1022.99 L333.14,1023.45 L333.80,1023.92 L334.46,1024.37 L335.12,1024.82 L335.79,1025.26 L336.46,1025.69 L337.13,1026.12 L337.81,1026.54 L338.50,1026.96 L339.18,1027.37 L339.87,1027.77 L340.57,1028.17 L341.26,1028.57 L341.96,1028.96 L342.66,1029.35 L343.37,1029.73 L344.08,1030.10 L344.79,1030.47 L345.50,1030.84 L346.22,1031.20 L346.93,1031.56 L347.65,1031.91 L348.38,1032.26 L349.10,1032.60 L349.83,1032.94 L350.56,1033.27 L351.29,1033.60 L352.03,1033.93 L352.76,1034.25 L353.50,1034.56 L354.24,1034.87 L354.98,1035.18 L355.72,1035.48 L356.47,1035.78 L357.22,1036.08 L357.96,1036.36 L358.71,1036.65 L359.47,1036.93 L360.22,1037.21 L360.97,1037.48 L361.73,1037.76 L362.48,1038.02 L363.24,1038.29 L364.00,1038.56 L364.76,1038.82 L365.51,1039.08 L366.27,1039.34 L367.03,1039.60 L367.79,1039.86 L368.55,1040.12 L369.30,1040.39 L370.06,1040.65 L370.82,1040.91 L371.57,1041.18 L372.33,1041.44 L373.08,1041.71 L373.84,1041.98 L374.59,1042.26 L375.34,1042.54 L376.08,1042.82 L376.83,1043.11 L377.57,1043.40 L378.32,1043.70 L379.06,1044.00 L379.79,1044.30 L380.53,1044.62 L381.26,1044.93 L381.99,1045.26 L382.72,1045.59 L383.45,1045.92 L384.17,1046.25 L384.90,1046.60 L385.62,1046.94 L386.34,1047.29 L387.06,1047.64 L387.78,1047.99 L388.49,1048.35 L389.21,1048.71 L389.92,1049.07 L390.64,1049.43 L391.35,1049.79 L392.07,1050.16 L392.78,1050.52 L393.49,1050.89 L394.21,1051.26 L394.92,1051.62 L395.64,1051.99 L396.35,1052.35 L397.06,1052.72 L397.78,1053.08 L398.50,1053.44 L399.21,1053.80 L399.93,1054.16 L400.65,1054.51 L401.37,1054.87 L402.09,1055.22 L402.81,1055.57 L403.54,1055.91 L404.26,1056.26 L404.99,1056.60 L405.71,1056.94 L406.44,1057.27 L407.17,1057.60 L407.90,1057.93 L408.63,1058.25 L409.36,1058.57 L410.10,1058.89 L410.84,1059.20 L411.57,1059.51 L412.32,1059.81 L413.06,1060.11 L413.80,1060.40 L414.55,1060.69 L415.29,1060.97 L416.04,1061.25 L416.79,1061.52 L417.55,1061.79 L418.30,1062.05 L419.06,1062.31 L419.82,1062.56 L420.58,1062.80 L421.35,1063.04 L422.11,1063.27 L422.88,1063.50 L423.65,1063.72 L424.42,1063.94 L425.19,1064.15 L425.97,1064.36 L426.74,1064.57 L427.52,1064.77 L428.29,1064.97 L429.07,1065.17 L429.85,1065.36 L430.63,1065.55 L431.41,1065.73 L432.20,1065.92 L432.98,1066.10 L433.76,1066.28 L434.54,1066.46 L435.33,1066.63 L436.11,1066.81 L436.89,1066.98 L437.68,1067.15 L438.46,1067.33 L439.25,1067.50 L440.03,1067.67 L440.81,1067.84 L441.60,1068.00 L442.38,1068.17 L443.17,1068.34 L443.95,1068.50 L444.74,1068.67 L445.52,1068.83 L446.31,1068.99 L447.09,1069.15 L447.88,1069.31 L448.66,1069.47 L449.45,1069.63 L450.23,1069.79 L451.02,1069.94 L451.80,1070.10 L452.59,1070.25 L453.37,1070.40 L454.16,1070.55 L454.95,1070.70 L455.73,1070.85 L456.52,1071.00 L457.31,1071.15 L458.09,1071.29 L458.88,1071.44 L459.67,1071.58 L460.46,1071.73 L461.24,1071.87 L462.03,1072.01 L462.82,1072.15 L463.61,1072.28 L464.40,1072.42 L465.19,1072.56 L465.97,1072.69 L466.76,1072.82 L467.55,1072.96 L468.34,1073.09 L469.13,1073.22 L469.92,1073.35 L470.71,1073.47 L471.51,1073.60 L472.30,1073.72 L473.09,1073.85 L473.88,1073.97 L474.67,1074.09 L475.46,1074.21 L476.26,1074.33 L477.05,1074.45 L477.84,1074.56 L478.64,1074.68 L479.43,1074.79 L480.23,1074.90 L481.02,1075.02 L481.81,1075.13 L482.61,1075.24 L483.40,1075.35 L484.20,1075.47 L484.99,1075.58 L485.79,1075.69 L486.58,1075.81 L487.37,1075.92 L488.17,1076.03 L488.96,1076.15 L489.75,1076.27 L490.55,1076.38 L491.34,1076.50 L492.13,1076.62 L492.93,1076.74 L493.72,1076.87 L494.51,1076.99 L495.30,1077.12 L496.09,1077.25 L496.88,1077.38 L497.67,1077.52 L498.46,1077.65 L499.24,1077.79 L500.03,1077.94 L500.82,1078.08 L501.60,1078.23 L502.39,1078.38 L503.17,1078.53 L503.96,1078.69 L504.74,1078.85 L505.53,1079.00 L506.31,1079.16 L507.09,1079.32 L507.88,1079.49 L508.66,1079.65 L509.44,1079.82 L510.22,1079.98 L511.01,1080.15 L511.79,1080.31 L512.57,1080.48 L513.36,1080.65 L514.14,1080.82 L514.92,1080.98 L515.71,1081.15 L516.49,1081.32 L517.28,1081.48 L518.06,1081.65 L518.85,1081.81 L519.63,1081.98 L520.42,1082.14 L521.21,1082.30 L522.00,1082.46 L522.79,1082.61 L523.57,1082.77 L524.36,1082.92 L525.15,1083.07 L525.94,1083.22 L526.74,1083.36 L527.53,1083.50 L528.32,1083.64 L529.11,1083.77 L529.90,1083.90 L530.70,1084.03 L531.49,1084.15 L532.28,1084.27 L533.08,1084.38 L533.87,1084.48 L534.67,1084.58 L535.47,1084.68 L536.26,1084.77 L537.06,1084.85 L537.85,1084.93 L538.65,1085.00 L539.45,1085.07 L540.25,1085.13 L541.05,1085.18 L541.84,1085.22 L542.64,1085.26 L543.44,1085.29 L544.24,1085.32 L545.04,1085.34 L545.84,1085.36 L546.64,1085.37 L547.44,1085.37 L548.24,1085.38 L549.04,1085.38 L549.84,1085.37 L550.65,1085.37 L551.45,1085.36 L552.25,1085.35 L553.05,1085.34 L553.85,1085.32 L554.65,1085.31 L555.45,1085.29 L556.26,1085.27 L557.06,1085.25 L557.86,1085.24 L558.66,1085.22 L559.46,1085.20 L560.26,1085.19 L561.06,1085.18 L561.87,1085.16 L562.67,1085.15 L563.47,1085.14 L564.27,1085.14 L565.07,1085.13 L565.87,1085.12 L566.67,1085.12 L567.47,1085.12 L568.27,1085.12 L569.08,1085.12 L569.88,1085.13 L570.68,1085.14 L571.48,1085.15 L572.28,1085.16 L573.08,1085.17 L573.88,1085.19 L574.68,1085.21 L575.48,1085.23 L576.28,1085.25 L577.08,1085.28 L577.88,1085.31 L578.68,1085.34 L579.47,1085.38 L580.27,1085.42 L581.07,1085.46 L581.87,1085.51 L582.67,1085.55 L583.47,1085.61 L584.27,1085.66 L585.07,1085.72 L585.86,1085.78 L586.66,1085.85 L587.46,1085.92 L588.26,1085.99 L589.06,1086.06 L589.85,1086.14 L590.65,1086.21 L591.45,1086.29 L592.25,1086.37 L593.05,1086.46 L593.84,1086.54 L594.64,1086.62 L595.44,1086.71 L596.24,1086.79 L597.03,1086.88 L597.83,1086.97 L598.63,1087.05 L599.42,1087.14 L600.22,1087.23 L601.02,1087.31 L601.82,1087.40 L602.62,1087.48 L603.41,1087.57 L604.21,1087.65 L605.01,1087.73 L605.81,1087.81 L606.60,1087.89 L607.40,1087.97 L608.20,1088.05 L609.00,1088.12 L609.80,1088.20 L610.59,1088.27 L611.39,1088.34 L612.19,1088.41 L612.99,1088.48 L613.79,1088.55 L614.59,1088.62 L615.39,1088.69 L616.18,1088.75 L616.98,1088.82 L617.78,1088.88 L618.58,1088.95 L619.38,1089.01 L620.18,1089.07 L620.98,1089.13 L621.78,1089.19 L622.58,1089.25 L623.37,1089.31 L624.17,1089.36 L624.97,1089.42 L625.77,1089.47 L626.57,1089.53 L627.37,1089.58 L628.17,1089.63 L628.97,1089.68 L629.77,1089.73 L630.57,1089.78 L631.37,1089.83 L632.17,1089.88 L632.97,1089.93 L633.77,1089.98 L634.57,1090.02 L635.37,1090.07 L636.17,1090.11 L636.97,1090.16 L637.77,1090.20 L638.57,1090.24 L639.37,1090.29 L640.17,1090.33 L640.97,1090.37 L641.77,1090.41 L642.57,1090.45 L643.37,1090.49 L644.17,1090.53 L644.97,1090.56 L645.77,1090.60 L646.57,1090.64 L647.37,1090.68 L648.17,1090.71 L648.97,1090.75 L649.77,1090.78 L650.57,1090.82 L651.37,1090.85 L652.17,1090.88 L652.97,1090.92 L653.77,1090.95 L654.57,1090.98 L655.37,1091.01 L656.17,1091.04 L656.97,1091.08 L657.77,1091.11 L658.57,1091.14 L659.38,1091.17 L660.18,1091.20 L660.98,1091.23 L661.78,1091.25 L662.58,1091.28 L663.38,1091.31 L664.18,1091.34 L664.98,1091.37 L665.78,1091.40 L666.58,1091.42 L667.38,1091.45 L668.18,1091.48 L668.98,1091.51 L669.79,1091.53 L670.59,1091.56 L671.39,1091.59 L672.19,1091.61 L672.99,1091.64 L673.79,1091.66 L674.59,1091.69 L675.39,1091.72 L676.19,1091.74 L676.99,1091.77 L677.79,1091.79 L678.59,1091.82 L679.40,1091.84 L680.20,1091.87 L681.00,1091.90 L681.80,1091.92 L682.60,1091.95 L683.40,1091.97 L684.20,1092.00 L685.00,1092.03 L685.80,1092.05 L686.60,1092.08 L687.40,1092.10 L688.21,1092.13 L689.01,1092.16 L689.81,1092.18 L690.61,1092.21 L691.41,1092.24 L692.21,1092.26 L693.01,1092.29 L693.81,1092.31 L694.61,1092.34 L695.41,1092.37 L696.21,1092.39 L697.01,1092.42 L697.82,1092.45 L698.62,1092.47 L699.42,1092.50 L700.22,1092.53 L701.02,1092.55 L701.82,1092.58 L702.62,1092.61 L703.42,1092.63 L704.22,1092.66 L705.02,1092.69 L705.82,1092.71 L706.62,1092.74 L707.43,1092.76 L708.23,1092.79 L709.03,1092.81 L709.83,1092.84 L710.63,1092.87 L711.43,1092.89 L712.23,1092.92 L713.03,1092.94 L713.83,1092.97 L714.63,1092.99 L715.43,1093.02 L716.23,1093.04 L717.03,1093.07 L717.84,1093.09 L718.64,1093.11 L719.44,1093.14 L720.24,1093.16 L721.04,1093.19 L721.84,1093.21 L722.64,1093.23 L723.44,1093.25 L724.24,1093.28 L725.04,1093.30 L725.84,1093.32 L726.65,1093.34 L727.45,1093.37 L728.25,1093.39 L729.05,1093.41 L729.85,1093.43 L730.65,1093.45 L731.45,1093.47 L732.25,1093.49 L733.05,1093.51 L733.85,1093.53 L734.65,1093.55 L735.46,1093.57 L736.26,1093.59 L737.06,1093.61 L737.86,1093.62 L738.66,1093.64 L739.46,1093.66 L740.26,1093.68 L741.06,1093.69 L741.86,1093.71 L742.66,1093.72 L743.47,1093.74 L744.27,1093.76 L745.07,1093.77 L745.87,1093.78 L746.67,1093.80 L747.47,1093.81 L748.27,1093.83 L749.07,1093.84 L749.87,1093.85 L750.68,1093.86 L751.48,1093.87 L752.28,1093.88 L753.08,1093.90 L753.88,1093.91 L754.68,1093.92 L755.48,1093.92 L756.28,1093.93 L757.08,1093.94 L757.89,1093.95 L758.69,1093.96 L759.49,1093.96 L760.29,1093.97 L761.09,1093.97 L761.89,1093.98 L762.69,1093.98 L763.49,1093.99 L764.30,1093.99 L765.10,1094.00 L765.90,1094.00 L766.70,1094.00" fill="none" stroke="#ff0000" stroke-width="1.75" stroke-linejoin="round" stroke-linecap="round"/>
<rect x="121.20" y="637.50" width="669.90" height="474.10" fill="none" stroke="#000" stroke-width="1.8" stroke-linejoin="round"/>
<line x1="105.0" y1="1094.00" x2="121.20" y2="1094.00" stroke="#000" stroke-width="1.8"/>
<text x="77.33" y="1104.11" font-size="29.5" fill="#000" font-weight="normal" transform="matrix(1 0 0 1.055 0 -60.726)">0</text>
<line x1="105.0" y1="1025.54" x2="121.20" y2="1025.54" stroke="#000" stroke-width="1.8"/>
<text x="44.52" y="1035.65" font-size="29.5" fill="#000" font-weight="normal" transform="matrix(1 0 0 1.055 0 -56.961)">100</text>
<line x1="105.0" y1="957.08" x2="121.20" y2="957.08" stroke="#000" stroke-width="1.8"/>
<line x1="105.0" y1="888.62" x2="121.20" y2="888.62" stroke="#000" stroke-width="1.8"/>
<text x="44.52" y="898.73" font-size="29.5" fill="#000" font-weight="normal" transform="matrix(1 0 0 1.055 0 -49.430)">300</text>
<line x1="105.0" y1="820.16" x2="121.20" y2="820.16" stroke="#000" stroke-width="1.8"/>
<line x1="105.0" y1="751.70" x2="121.20" y2="751.70" stroke="#000" stroke-width="1.8"/>
<text x="44.52" y="761.81" font-size="29.5" fill="#000" font-weight="normal" transform="matrix(1 0 0 1.055 0 -41.899)">500</text>
<line x1="105.0" y1="683.24" x2="121.20" y2="683.24" stroke="#000" stroke-width="1.8"/>
<line x1="165.00" y1="1111.60" x2="165.00" y2="1127.60" stroke="#000" stroke-width="1.8"/>
<text x="128.05" y="1161.00" font-size="29.5" fill="#000" font-weight="normal" transform="matrix(1 0 0 1.055 0 -63.855)">0.000</text>
<line x1="289.34" y1="1111.60" x2="289.34" y2="1127.60" stroke="#000" stroke-width="1.8"/>
<text x="252.43" y="1161.00" font-size="29.5" fill="#000" font-weight="normal" transform="matrix(1 0 0 1.055 0 -63.855)">0.005</text>
<line x1="413.68" y1="1111.60" x2="413.68" y2="1127.60" stroke="#000" stroke-width="1.8"/>
<text x="376.73" y="1161.00" font-size="29.5" fill="#000" font-weight="normal" transform="matrix(1 0 0 1.055 0 -63.855)">0.010</text>
<line x1="538.02" y1="1111.60" x2="538.02" y2="1127.60" stroke="#000" stroke-width="1.8"/>
<text x="501.11" y="1161.00" font-size="29.5" fill="#000" font-weight="normal" transform="matrix(1 0 0 1.055 0 -63.855)">0.015</text>
<line x1="662.36" y1="1111.60" x2="662.36" y2="1127.60" stroke="#000" stroke-width="1.8"/>
<text x="625.41" y="1161.00" font-size="29.5" fill="#000" font-weight="normal" transform="matrix(1 0 0 1.055 0 -63.855)">0.020</text>
<line x1="786.70" y1="1111.60" x2="786.70" y2="1127.60" stroke="#000" stroke-width="1.8"/>
<text x="749.79" y="1161.00" font-size="29.5" fill="#000" font-weight="normal" transform="matrix(1 0 0 1.055 0 -63.855)">0.025</text>
<text x="237.56" y="1203.30" font-size="29.6" fill="#000" font-weight="normal" textLength="436.67" lengthAdjust="spacing" >Rate of evolution of song duration</text>
<text x="-155.64" y="0.00" font-size="29.6" fill="#000" font-weight="normal" textLength="309.85" lengthAdjust="spacing" transform="translate(23.9,868.25) rotate(-90)">Number of observations</text>
<text x="-1.00" y="649.70" font-size="42" font-weight="bold">b</text>
<g transform="translate(367.40,636.25)" fill="#98002a">
<text x="264.23" y="76.1" font-size="25.0" font-style="italic">p</text>
<rect x="285.1" y="66.00" width="12.9" height="1.8"/>
<rect x="285.1" y="70.90" width="12.9" height="1.8"/>
<text x="305.40" y="76.04" font-size="25.0" textLength="62.98" lengthAdjust="spacing" transform="matrix(1 0 0 1.034 0 -2.585)">0.007</text>
</g>
<rect x="121.20" y="637.50" width="282.20" height="141.60" fill="#fff" stroke="#000" stroke-width="1.8"/>
<line x1="147.00" y1="673.30" x2="202.00" y2="673.30" stroke="#0000ff" stroke-width="1.75"/>
<text x="212.62" y="681.30" font-size="25.2" fill="#000" font-weight="normal" textLength="123.33" lengthAdjust="spacing" >Monogamy</text>
<line x1="147.00" y1="708.90" x2="202.00" y2="708.90" stroke="#ff0000" stroke-width="1.75"/>
<text x="212.62" y="716.90" font-size="25.2" fill="#000" font-weight="normal" textLength="100.85" lengthAdjust="spacing" >Polygyny</text>
<line x1="147.85" y1="744.50" x2="199.70" y2="744.50" stroke="#000" stroke-width="1.7" stroke-dasharray="5.0 9.9" stroke-linecap="round"/>
<text x="212.62" y="752.50" font-size="25.2" fill="#000" font-weight="normal" textLength="126.63" lengthAdjust="spacing" >Equal rates</text>
<line x1="121.20" y1="1714.40" x2="791.10" y2="1714.40" stroke="#d6d6d6" stroke-width="1.2"/>
<line x1="312.60" y1="1265.65" x2="312.60" y2="1732.00" stroke="#000" stroke-width="1.7" stroke-dasharray="5.0 9.86" stroke-linecap="round"/>
<path d="M145.50,1713.80 L146.29,1713.73 L147.07,1713.67 L147.86,1713.61 L148.66,1713.56 L149.45,1713.51 L150.25,1713.47 L151.05,1713.43 L151.85,1713.40 L152.65,1713.37 L153.46,1713.34 L154.27,1713.31 L155.07,1713.29 L155.88,1713.26 L156.69,1713.24 L157.50,1713.21 L158.31,1713.18 L159.12,1713.15 L159.93,1713.12 L160.74,1713.08 L161.54,1713.04 L162.35,1713.00 L163.16,1712.95 L163.96,1712.89 L164.77,1712.82 L165.57,1712.75 L166.37,1712.67 L167.17,1712.58 L167.97,1712.48 L168.76,1712.37 L169.56,1712.26 L170.35,1712.12 L171.13,1711.98 L171.92,1711.83 L172.70,1711.66 L173.48,1711.49 L174.25,1711.30 L175.03,1711.10 L175.80,1710.89 L176.56,1710.67 L177.33,1710.44 L178.09,1710.21 L178.85,1709.96 L179.60,1709.70 L180.35,1709.43 L181.10,1709.16 L181.85,1708.87 L182.59,1708.58 L183.33,1708.28 L184.07,1707.97 L184.80,1707.66 L185.53,1707.33 L186.26,1707.00 L186.98,1706.67 L187.70,1706.32 L188.42,1705.97 L189.14,1705.61 L189.85,1705.25 L190.56,1704.88 L191.26,1704.50 L191.96,1704.12 L192.66,1703.73 L193.36,1703.33 L194.05,1702.93 L194.74,1702.53 L195.43,1702.12 L196.11,1701.70 L196.80,1701.28 L197.47,1700.85 L198.15,1700.42 L198.82,1699.98 L199.49,1699.54 L200.16,1699.09 L200.82,1698.64 L201.49,1698.18 L202.15,1697.72 L202.80,1697.25 L203.45,1696.78 L204.11,1696.31 L204.75,1695.83 L205.40,1695.35 L206.04,1694.86 L206.68,1694.37 L207.32,1693.88 L207.95,1693.39 L208.59,1692.89 L209.21,1692.38 L209.84,1691.88 L210.47,1691.37 L211.09,1690.85 L211.71,1690.34 L212.33,1689.82 L212.94,1689.30 L213.55,1688.78 L214.16,1688.25 L214.77,1687.73 L215.37,1687.20 L215.98,1686.66 L216.58,1686.13 L217.18,1685.59 L217.77,1685.06 L218.36,1684.52 L218.96,1683.98 L219.54,1683.43 L220.13,1682.89 L220.72,1682.35 L221.30,1681.80 L221.88,1681.26 L222.46,1680.71 L223.05,1680.17 L223.63,1679.63 L224.21,1679.09 L224.80,1678.55 L225.39,1678.01 L225.98,1677.48 L226.58,1676.95 L227.18,1676.43 L227.78,1675.91 L228.39,1675.39 L229.00,1674.88 L229.62,1674.38 L230.25,1673.88 L230.89,1673.39 L231.53,1672.91 L232.18,1672.44 L232.83,1671.96 L233.49,1671.50 L234.15,1671.04 L234.81,1670.59 L235.48,1670.14 L236.15,1669.69 L236.83,1669.25 L237.50,1668.81 L238.17,1668.38 L238.85,1667.95 L239.52,1667.52 L240.19,1667.09 L240.86,1666.67 L241.53,1666.25 L242.20,1665.83 L242.88,1665.41 L243.55,1665.00 L244.22,1664.58 L244.90,1664.17 L245.58,1663.76 L246.27,1663.35 L246.96,1662.95 L247.66,1662.54 L248.36,1662.13 L249.07,1661.73 L249.79,1661.33 L250.51,1660.94 L251.24,1660.55 L251.97,1660.18 L252.71,1659.82 L253.46,1659.48 L254.21,1659.16 L254.96,1658.85 L255.72,1658.57 L256.49,1658.32 L257.26,1658.09 L258.03,1657.89 L258.81,1657.72 L259.59,1657.59 L260.37,1657.48 L261.15,1657.39 L261.94,1657.34 L262.73,1657.31 L263.52,1657.31 L264.31,1657.33 L265.10,1657.38 L265.89,1657.45 L266.67,1657.55 L267.46,1657.66 L268.24,1657.80 L269.03,1657.97 L269.81,1658.15 L270.58,1658.35 L271.36,1658.57 L272.12,1658.81 L272.89,1659.07 L273.65,1659.35 L274.40,1659.64 L275.15,1659.95 L275.89,1660.27 L276.63,1660.61 L277.35,1660.96 L278.07,1661.33 L278.78,1661.71 L279.49,1662.10 L280.18,1662.51 L280.87,1662.92 L281.56,1663.34 L282.24,1663.77 L282.91,1664.20 L283.58,1664.64 L284.25,1665.08 L284.92,1665.53 L285.59,1665.97 L286.25,1666.42 L286.92,1666.86 L287.59,1667.30 L288.26,1667.74 L288.93,1668.17 L289.60,1668.61 L290.28,1669.04 L290.95,1669.47 L291.62,1669.90 L292.29,1670.34 L292.96,1670.77 L293.63,1671.22 L294.29,1671.67 L294.95,1672.12 L295.60,1672.58 L296.25,1673.05 L296.90,1673.51 L297.56,1673.98 L298.22,1674.43 L298.88,1674.89 L299.55,1675.33 L300.22,1675.77 L300.90,1676.21 L301.58,1676.63 L302.26,1677.05 L302.95,1677.46 L303.65,1677.87 L304.35,1678.26 L305.05,1678.65 L305.76,1679.03 L306.47,1679.40 L307.19,1679.76 L307.91,1680.12 L308.63,1680.46 L309.36,1680.79 L310.09,1681.12 L310.83,1681.43 L311.57,1681.73 L312.31,1682.02 L313.06,1682.31 L313.81,1682.58 L314.57,1682.83 L315.33,1683.08 L316.09,1683.31 L316.86,1683.53 L317.63,1683.74 L318.40,1683.94 L319.18,1684.12 L319.96,1684.29 L320.74,1684.45 L321.53,1684.59 L322.32,1684.72 L323.11,1684.84 L323.91,1684.94 L324.71,1685.03 L325.50,1685.11 L326.31,1685.17 L327.11,1685.23 L327.91,1685.27 L328.72,1685.30 L329.52,1685.32 L330.33,1685.33 L331.14,1685.32 L331.94,1685.31 L332.75,1685.29 L333.56,1685.25 L334.36,1685.21 L335.17,1685.15 L335.97,1685.09 L336.78,1685.02 L337.58,1684.93 L338.38,1684.84 L339.18,1684.74 L339.97,1684.63 L340.77,1684.52 L341.56,1684.39 L342.35,1684.26 L343.14,1684.12 L343.92,1683.98 L344.71,1683.83 L345.49,1683.67 L346.28,1683.51 L347.06,1683.34 L347.84,1683.17 L348.62,1682.99 L349.39,1682.81 L350.17,1682.63 L350.95,1682.45 L351.73,1682.26 L352.50,1682.07 L353.28,1681.88 L354.05,1681.69 L354.83,1681.50 L355.60,1681.30 L356.38,1681.11 L357.15,1680.92 L357.93,1680.73 L358.71,1680.54 L359.48,1680.36 L360.26,1680.17 L361.04,1679.99 L361.82,1679.81 L362.60,1679.64 L363.38,1679.46 L364.16,1679.29 L364.94,1679.12 L365.72,1678.95 L366.51,1678.78 L367.29,1678.62 L368.07,1678.45 L368.86,1678.29 L369.64,1678.12 L370.43,1677.96 L371.21,1677.79 L372.00,1677.63 L372.78,1677.47 L373.57,1677.30 L374.35,1677.14 L375.14,1676.97 L375.92,1676.81 L376.71,1676.64 L377.50,1676.47 L378.28,1676.30 L379.07,1676.13 L379.85,1675.96 L380.64,1675.78 L381.42,1675.60 L382.21,1675.42 L382.99,1675.24 L383.77,1675.06 L384.56,1674.87 L385.34,1674.69 L386.12,1674.50 L386.91,1674.31 L387.69,1674.12 L388.47,1673.93 L389.25,1673.73 L390.03,1673.53 L390.81,1673.34 L391.59,1673.14 L392.37,1672.94 L393.15,1672.74 L393.92,1672.53 L394.70,1672.33 L395.48,1672.12 L396.25,1671.92 L397.03,1671.71 L397.80,1671.50 L398.57,1671.29 L399.35,1671.08 L400.12,1670.87 L400.89,1670.65 L401.66,1670.44 L402.43,1670.23 L403.20,1670.01 L403.96,1669.80 L404.73,1669.58 L405.50,1669.37 L406.27,1669.16 L407.04,1668.94 L407.80,1668.73 L408.57,1668.52 L409.34,1668.31 L410.11,1668.10 L410.88,1667.89 L411.65,1667.69 L412.42,1667.48 L413.19,1667.28 L413.96,1667.08 L414.73,1666.88 L415.51,1666.69 L416.29,1666.50 L417.06,1666.31 L417.84,1666.12 L418.62,1665.94 L419.40,1665.76 L420.19,1665.59 L420.97,1665.42 L421.76,1665.25 L422.55,1665.09 L423.34,1664.93 L424.13,1664.77 L424.93,1664.63 L425.72,1664.48 L426.52,1664.34 L427.31,1664.21 L428.11,1664.08 L428.91,1663.96 L429.71,1663.85 L430.51,1663.74 L431.31,1663.64 L432.11,1663.54 L432.91,1663.45 L433.71,1663.37 L434.51,1663.30 L435.32,1663.23 L436.12,1663.17 L436.92,1663.12 L437.72,1663.08 L438.52,1663.04 L439.32,1663.02 L440.12,1663.00 L440.92,1662.99 L441.72,1662.99 L442.52,1663.00 L443.32,1663.02 L444.11,1663.04 L444.91,1663.08 L445.70,1663.13 L446.49,1663.19 L447.28,1663.26 L448.07,1663.34 L448.86,1663.43 L449.65,1663.53 L450.43,1663.64 L451.21,1663.76 L451.99,1663.90 L452.77,1664.04 L453.55,1664.20 L454.32,1664.37 L455.09,1664.56 L455.86,1664.75 L456.63,1664.96 L457.39,1665.18 L458.15,1665.42 L458.91,1665.67 L459.67,1665.93 L460.42,1666.20 L461.17,1666.49 L461.91,1666.79 L462.65,1667.11 L463.39,1667.43 L464.13,1667.76 L464.87,1668.11 L465.60,1668.46 L466.33,1668.82 L467.06,1669.19 L467.79,1669.56 L468.52,1669.94 L469.24,1670.32 L469.96,1670.71 L470.68,1671.10 L471.41,1671.50 L472.12,1671.90 L472.84,1672.29 L473.56,1672.69 L474.28,1673.09 L474.99,1673.48 L475.71,1673.88 L476.43,1674.27 L477.14,1674.66 L477.86,1675.04 L478.58,1675.42 L479.29,1675.79 L480.01,1676.16 L480.73,1676.52 L481.45,1676.87 L482.17,1677.21 L482.89,1677.55 L483.61,1677.87 L484.33,1678.18 L485.05,1678.49 L485.78,1678.78 L486.51,1679.07 L487.24,1679.35 L487.97,1679.63 L488.70,1679.90 L489.43,1680.17 L490.17,1680.44 L490.91,1680.70 L491.65,1680.97 L492.40,1681.24 L493.14,1681.51 L493.89,1681.78 L494.65,1682.05 L495.40,1682.33 L496.16,1682.61 L496.91,1682.90 L497.67,1683.18 L498.43,1683.47 L499.19,1683.76 L499.95,1684.06 L500.71,1684.35 L501.46,1684.65 L502.22,1684.95 L502.97,1685.25 L503.72,1685.55 L504.47,1685.85 L505.22,1686.16 L505.96,1686.46 L506.71,1686.77 L507.45,1687.08 L508.19,1687.39 L508.93,1687.69 L509.67,1688.00 L510.41,1688.31 L511.15,1688.62 L511.89,1688.93 L512.63,1689.24 L513.36,1689.55 L514.10,1689.86 L514.84,1690.17 L515.58,1690.47 L516.31,1690.78 L517.05,1691.08 L517.79,1691.39 L518.53,1691.69 L519.27,1691.99 L520.01,1692.29 L520.75,1692.59 L521.49,1692.89 L522.23,1693.18 L522.98,1693.47 L523.72,1693.77 L524.47,1694.06 L525.21,1694.34 L525.96,1694.63 L526.71,1694.91 L527.46,1695.20 L528.21,1695.48 L528.96,1695.76 L529.71,1696.03 L530.47,1696.31 L531.22,1696.58 L531.97,1696.86 L532.73,1697.13 L533.49,1697.40 L534.24,1697.66 L535.00,1697.93 L535.76,1698.19 L536.52,1698.46 L537.28,1698.72 L538.04,1698.98 L538.80,1699.23 L539.56,1699.49 L540.32,1699.74 L541.08,1700.00 L541.85,1700.25 L542.61,1700.50 L543.38,1700.74 L544.14,1700.99 L544.91,1701.23 L545.67,1701.47 L546.44,1701.71 L547.21,1701.95 L547.98,1702.19 L548.75,1702.42 L549.52,1702.65 L550.29,1702.88 L551.06,1703.11 L551.83,1703.33 L552.60,1703.55 L553.37,1703.77 L554.14,1703.99 L554.92,1704.21 L555.69,1704.42 L556.47,1704.63 L557.24,1704.84 L558.02,1705.04 L558.80,1705.24 L559.57,1705.44 L560.35,1705.64 L561.13,1705.83 L561.91,1706.03 L562.69,1706.21 L563.47,1706.40 L564.25,1706.58 L565.03,1706.76 L565.81,1706.94 L566.59,1707.11 L567.38,1707.28 L568.16,1707.45 L568.94,1707.61 L569.73,1707.77 L570.51,1707.93 L571.30,1708.09 L572.08,1708.24 L572.87,1708.38 L573.66,1708.53 L574.45,1708.67 L575.23,1708.80 L576.02,1708.94 L576.81,1709.07 L577.60,1709.19 L578.39,1709.32 L579.18,1709.43 L579.97,1709.55 L580.77,1709.66 L581.56,1709.77 L582.35,1709.87 L583.15,1709.97 L583.94,1710.07 L584.73,1710.16 L585.53,1710.25 L586.32,1710.33 L587.12,1710.42 L587.91,1710.50 L588.71,1710.57 L589.51,1710.65 L590.30,1710.72 L591.10,1710.79 L591.90,1710.85 L592.70,1710.92 L593.50,1710.98 L594.30,1711.03 L595.09,1711.09 L595.89,1711.14 L596.69,1711.19 L597.49,1711.24 L598.29,1711.29 L599.09,1711.33 L599.90,1711.37 L600.70,1711.41 L601.50,1711.45 L602.30,1711.49 L603.10,1711.52 L603.90,1711.56 L604.70,1711.59 L605.51,1711.62 L606.31,1711.65 L607.11,1711.68 L607.91,1711.71 L608.72,1711.73 L609.52,1711.76 L610.32,1711.78 L611.12,1711.81 L611.93,1711.83 L612.73,1711.85 L613.53,1711.87 L614.33,1711.89 L615.14,1711.91 L615.94,1711.93 L616.74,1711.95 L617.55,1711.97 L618.35,1711.99 L619.15,1712.01 L619.95,1712.03 L620.76,1712.05 L621.56,1712.07 L622.36,1712.09 L623.17,1712.11 L623.97,1712.13 L624.77,1712.15 L625.57,1712.16 L626.38,1712.18 L627.18,1712.20 L627.98,1712.22 L628.78,1712.24 L629.59,1712.25 L630.39,1712.27 L631.19,1712.29 L631.99,1712.30 L632.80,1712.32 L633.60,1712.34 L634.40,1712.35 L635.20,1712.37 L636.01,1712.39 L636.81,1712.40 L637.61,1712.42 L638.41,1712.44 L639.21,1712.45 L640.02,1712.47 L640.82,1712.48 L641.62,1712.50 L642.42,1712.51 L643.23,1712.53 L644.03,1712.54 L644.83,1712.56 L645.63,1712.57 L646.43,1712.59 L647.24,1712.60 L648.04,1712.62 L648.84,1712.63 L649.64,1712.65 L650.44,1712.66 L651.25,1712.68 L652.05,1712.69 L652.85,1712.70 L653.65,1712.72 L654.45,1712.73 L655.25,1712.74 L656.06,1712.76 L656.86,1712.77 L657.66,1712.78 L658.46,1712.80 L659.26,1712.81 L660.07,1712.82 L660.87,1712.83 L661.67,1712.85 L662.47,1712.86 L663.27,1712.87 L664.07,1712.88 L664.88,1712.89 L665.68,1712.91 L666.48,1712.92 L667.28,1712.93 L668.08,1712.94 L668.88,1712.95 L669.69,1712.96 L670.49,1712.97 L671.29,1712.99 L672.09,1713.00 L672.89,1713.01 L673.69,1713.02 L674.49,1713.03 L675.30,1713.04 L676.10,1713.05 L676.90,1713.06 L677.70,1713.07 L678.50,1713.08 L679.30,1713.09 L680.11,1713.10 L680.91,1713.11 L681.71,1713.12 L682.51,1713.13 L683.31,1713.14 L684.11,1713.15 L684.91,1713.16 L685.72,1713.17 L686.52,1713.18 L687.32,1713.18 L688.12,1713.19 L688.92,1713.20 L689.72,1713.21 L690.52,1713.22 L691.33,1713.23 L692.13,1713.24 L692.93,1713.25 L693.73,1713.25 L694.53,1713.26 L695.33,1713.27 L696.13,1713.28 L696.94,1713.29 L697.74,1713.29 L698.54,1713.30 L699.34,1713.31 L700.14,1713.32 L700.94,1713.32 L701.75,1713.33 L702.55,1713.34 L703.35,1713.35 L704.15,1713.35 L704.95,1713.36 L705.75,1713.37 L706.55,1713.37 L707.36,1713.38 L708.16,1713.39 L708.96,1713.39 L709.76,1713.40 L710.56,1713.41 L711.36,1713.41 L712.16,1713.42 L712.97,1713.43 L713.77,1713.43 L714.57,1713.44 L715.37,1713.44 L716.17,1713.45 L716.97,1713.46 L717.78,1713.46 L718.58,1713.47 L719.38,1713.47 L720.18,1713.48 L720.98,1713.48 L721.78,1713.49 L722.59,1713.49 L723.39,1713.50 L724.19,1713.51 L724.99,1713.51 L725.79,1713.52 L726.59,1713.52 L727.40,1713.53 L728.20,1713.53 L729.00,1713.54 L729.80,1713.54 L730.60,1713.54 L731.40,1713.55 L732.21,1713.55 L733.01,1713.56 L733.81,1713.56 L734.61,1713.57 L735.41,1713.57 L736.21,1713.58 L737.02,1713.58 L737.82,1713.58 L738.62,1713.59 L739.42,1713.59 L740.22,1713.60 L741.03,1713.60 L741.83,1713.60 L742.63,1713.61 L743.43,1713.61 L744.23,1713.62 L745.04,1713.62 L745.84,1713.62 L746.64,1713.63 L747.44,1713.63 L748.24,1713.63 L749.05,1713.64 L749.85,1713.64 L750.65,1713.64 L751.45,1713.65 L752.26,1713.65 L753.06,1713.65 L753.86,1713.66 L754.66,1713.66 L755.46,1713.66 L756.27,1713.66 L757.07,1713.67 L757.87,1713.67 L758.67,1713.67 L759.48,1713.68 L760.28,1713.68 L761.08,1713.68 L761.88,1713.68 L762.69,1713.69 L763.49,1713.69 L764.29,1713.69 L765.09,1713.69 L765.90,1713.70 L766.70,1713.70" fill="none" stroke="#0000ff" stroke-width="1.75" stroke-linejoin="round" stroke-linecap="round"/>
<path d="M251.40,1713.90 L252.11,1713.88 L252.86,1713.86 L253.64,1713.83 L254.44,1713.79 L255.26,1713.74 L256.09,1713.66 L256.93,1713.57 L257.77,1713.45 L258.61,1713.30 L259.44,1713.12 L260.25,1712.91 L261.04,1712.67 L261.80,1712.38 L262.52,1712.05 L263.21,1711.67 L263.86,1711.24 L264.46,1710.77 L265.02,1710.25 L265.54,1709.70 L266.03,1709.10 L266.48,1708.47 L266.89,1707.81 L267.28,1707.12 L267.64,1706.41 L267.97,1705.68 L268.28,1704.93 L268.57,1704.16 L268.83,1703.38 L269.08,1702.60 L269.31,1701.81 L269.53,1701.01 L269.74,1700.22 L269.94,1699.42 L270.13,1698.63 L270.30,1697.84 L270.47,1697.05 L270.63,1696.25 L270.78,1695.46 L270.92,1694.67 L271.05,1693.88 L271.17,1693.09 L271.29,1692.29 L271.40,1691.50 L271.51,1690.71 L271.61,1689.92 L271.70,1689.13 L271.79,1688.34 L271.88,1687.55 L271.96,1686.75 L272.04,1685.96 L272.11,1685.17 L272.19,1684.38 L272.26,1683.58 L272.33,1682.79 L272.39,1682.00 L272.46,1681.20 L272.53,1680.41 L272.59,1679.61 L272.66,1678.82 L272.72,1678.02 L272.78,1677.22 L272.84,1676.43 L272.90,1675.63 L272.96,1674.84 L273.01,1674.04 L273.07,1673.24 L273.12,1672.44 L273.18,1671.65 L273.23,1670.85 L273.28,1670.05 L273.33,1669.25 L273.38,1668.45 L273.43,1667.65 L273.48,1666.85 L273.53,1666.05 L273.58,1665.25 L273.63,1664.45 L273.67,1663.65 L273.72,1662.85 L273.76,1662.05 L273.81,1661.25 L273.85,1660.45 L273.89,1659.65 L273.93,1658.85 L273.98,1658.05 L274.02,1657.25 L274.06,1656.45 L274.10,1655.65 L274.14,1654.85 L274.18,1654.04 L274.22,1653.24 L274.26,1652.44 L274.29,1651.64 L274.33,1650.84 L274.37,1650.04 L274.41,1649.24 L274.45,1648.44 L274.48,1647.64 L274.52,1646.83 L274.56,1646.03 L274.59,1645.23 L274.63,1644.43 L274.67,1643.63 L274.70,1642.83 L274.74,1642.03 L274.77,1641.23 L274.81,1640.43 L274.85,1639.63 L274.88,1638.82 L274.91,1638.02 L274.95,1637.22 L274.98,1636.42 L275.02,1635.62 L275.05,1634.82 L275.09,1634.02 L275.12,1633.22 L275.15,1632.42 L275.19,1631.62 L275.22,1630.82 L275.25,1630.02 L275.28,1629.21 L275.32,1628.41 L275.35,1627.61 L275.38,1626.81 L275.41,1626.01 L275.45,1625.21 L275.48,1624.41 L275.51,1623.61 L275.54,1622.81 L275.57,1622.01 L275.60,1621.21 L275.63,1620.41 L275.66,1619.61 L275.69,1618.81 L275.72,1618.01 L275.75,1617.21 L275.78,1616.41 L275.81,1615.61 L275.84,1614.80 L275.87,1614.00 L275.90,1613.20 L275.93,1612.40 L275.96,1611.60 L275.99,1610.80 L276.02,1610.00 L276.04,1609.20 L276.07,1608.40 L276.10,1607.60 L276.13,1606.80 L276.16,1606.00 L276.18,1605.20 L276.21,1604.40 L276.24,1603.60 L276.27,1602.80 L276.29,1602.00 L276.32,1601.20 L276.35,1600.40 L276.38,1599.60 L276.40,1598.80 L276.43,1598.00 L276.45,1597.20 L276.48,1596.40 L276.51,1595.60 L276.53,1594.80 L276.56,1593.99 L276.58,1593.19 L276.61,1592.39 L276.64,1591.59 L276.66,1590.79 L276.69,1589.99 L276.71,1589.19 L276.74,1588.39 L276.76,1587.59 L276.79,1586.79 L276.81,1585.99 L276.83,1585.19 L276.86,1584.39 L276.88,1583.59 L276.91,1582.79 L276.93,1581.99 L276.96,1581.19 L276.98,1580.39 L277.00,1579.59 L277.03,1578.79 L277.05,1577.99 L277.07,1577.19 L277.10,1576.39 L277.12,1575.59 L277.14,1574.79 L277.17,1573.98 L277.19,1573.18 L277.21,1572.38 L277.24,1571.58 L277.26,1570.78 L277.28,1569.98 L277.30,1569.18 L277.33,1568.38 L277.35,1567.58 L277.37,1566.78 L277.39,1565.98 L277.42,1565.18 L277.44,1564.38 L277.46,1563.58 L277.48,1562.78 L277.50,1561.98 L277.52,1561.18 L277.55,1560.38 L277.57,1559.58 L277.59,1558.77 L277.61,1557.97 L277.63,1557.17 L277.65,1556.37 L277.67,1555.57 L277.70,1554.77 L277.72,1553.97 L277.74,1553.17 L277.76,1552.37 L277.78,1551.57 L277.80,1550.77 L277.82,1549.97 L277.84,1549.17 L277.86,1548.37 L277.88,1547.57 L277.90,1546.76 L277.92,1545.96 L277.94,1545.16 L277.96,1544.36 L277.98,1543.56 L278.00,1542.76 L278.02,1541.96 L278.04,1541.16 L278.06,1540.36 L278.08,1539.56 L278.10,1538.76 L278.12,1537.96 L278.14,1537.16 L278.16,1536.36 L278.18,1535.55 L278.20,1534.75 L278.22,1533.95 L278.24,1533.15 L278.26,1532.35 L278.28,1531.55 L278.30,1530.75 L278.32,1529.95 L278.34,1529.15 L278.36,1528.35 L278.38,1527.55 L278.40,1526.75 L278.41,1525.95 L278.43,1525.14 L278.45,1524.34 L278.47,1523.54 L278.49,1522.74 L278.51,1521.94 L278.53,1521.14 L278.55,1520.34 L278.57,1519.54 L278.58,1518.74 L278.60,1517.94 L278.62,1517.14 L278.64,1516.34 L278.66,1515.53 L278.68,1514.73 L278.70,1513.93 L278.71,1513.13 L278.73,1512.33 L278.75,1511.53 L278.77,1510.73 L278.79,1509.93 L278.81,1509.13 L278.82,1508.33 L278.84,1507.53 L278.86,1506.73 L278.88,1505.92 L278.90,1505.12 L278.92,1504.32 L278.93,1503.52 L278.95,1502.72 L278.97,1501.92 L278.99,1501.12 L279.01,1500.32 L279.02,1499.52 L279.04,1498.72 L279.06,1497.92 L279.08,1497.12 L279.10,1496.31 L279.12,1495.51 L279.13,1494.71 L279.15,1493.91 L279.17,1493.11 L279.19,1492.31 L279.21,1491.51 L279.22,1490.71 L279.24,1489.91 L279.26,1489.11 L279.28,1488.31 L279.30,1487.50 L279.31,1486.70 L279.33,1485.90 L279.35,1485.10 L279.37,1484.30 L279.39,1483.50 L279.40,1482.70 L279.42,1481.90 L279.44,1481.10 L279.46,1480.30 L279.48,1479.50 L279.50,1478.69 L279.51,1477.89 L279.53,1477.09 L279.55,1476.29 L279.57,1475.49 L279.59,1474.69 L279.60,1473.89 L279.62,1473.09 L279.64,1472.29 L279.66,1471.49 L279.68,1470.69 L279.70,1469.89 L279.71,1469.08 L279.73,1468.28 L279.75,1467.48 L279.77,1466.68 L279.79,1465.88 L279.81,1465.08 L279.82,1464.28 L279.84,1463.48 L279.86,1462.68 L279.88,1461.88 L279.90,1461.08 L279.92,1460.27 L279.94,1459.47 L279.95,1458.67 L279.97,1457.87 L279.99,1457.07 L280.01,1456.27 L280.03,1455.47 L280.05,1454.67 L280.07,1453.87 L280.09,1453.07 L280.10,1452.27 L280.12,1451.47 L280.14,1450.66 L280.16,1449.86 L280.18,1449.06 L280.20,1448.26 L280.22,1447.46 L280.24,1446.66 L280.26,1445.86 L280.28,1445.06 L280.30,1444.26 L280.32,1443.46 L280.33,1442.66 L280.35,1441.86 L280.37,1441.05 L280.39,1440.25 L280.41,1439.45 L280.43,1438.65 L280.45,1437.85 L280.47,1437.05 L280.49,1436.25 L280.51,1435.45 L280.53,1434.65 L280.55,1433.85 L280.57,1433.05 L280.59,1432.25 L280.61,1431.44 L280.63,1430.64 L280.65,1429.84 L280.67,1429.04 L280.69,1428.24 L280.71,1427.44 L280.74,1426.64 L280.76,1425.84 L280.78,1425.04 L280.80,1424.24 L280.82,1423.44 L280.84,1422.64 L280.86,1421.84 L280.88,1421.04 L280.90,1420.23 L280.92,1419.43 L280.94,1418.63 L280.96,1417.83 L280.99,1417.03 L281.01,1416.23 L281.03,1415.43 L281.05,1414.63 L281.07,1413.83 L281.09,1413.03 L281.11,1412.23 L281.13,1411.43 L281.15,1410.63 L281.18,1409.83 L281.20,1409.02 L281.22,1408.22 L281.24,1407.42 L281.26,1406.62 L281.28,1405.82 L281.30,1405.02 L281.33,1404.22 L281.35,1403.42 L281.37,1402.62 L281.39,1401.82 L281.41,1401.02 L281.43,1400.22 L281.45,1399.42 L281.48,1398.62 L281.50,1397.82 L281.52,1397.01 L281.54,1396.21 L281.56,1395.41 L281.58,1394.61 L281.60,1393.81 L281.63,1393.01 L281.65,1392.21 L281.67,1391.41 L281.69,1390.61 L281.71,1389.81 L281.73,1389.01 L281.75,1388.21 L281.77,1387.41 L281.80,1386.61 L281.82,1385.81 L281.84,1385.00 L281.86,1384.20 L281.88,1383.40 L281.90,1382.60 L281.92,1381.80 L281.94,1381.00 L281.97,1380.20 L281.99,1379.40 L282.01,1378.60 L282.03,1377.80 L282.05,1377.00 L282.07,1376.20 L282.09,1375.40 L282.11,1374.60 L282.13,1373.80 L282.16,1373.00 L282.18,1372.19 L282.20,1371.39 L282.22,1370.59 L282.24,1369.79 L282.26,1368.99 L282.28,1368.19 L282.30,1367.39 L282.32,1366.59 L282.34,1365.79 L282.36,1364.99 L282.38,1364.19 L282.40,1363.39 L282.42,1362.59 L282.44,1361.79 L282.46,1360.99 L282.48,1360.18 L282.50,1359.38 L282.52,1358.58 L282.54,1357.78 L282.56,1356.98 L282.58,1356.18 L282.60,1355.38 L282.62,1354.58 L282.64,1353.78 L282.66,1352.98 L282.68,1352.18 L282.70,1351.38 L282.72,1350.58 L282.74,1349.78 L282.76,1348.98 L282.78,1348.17 L282.80,1347.37 L282.82,1346.57 L282.84,1345.77 L282.86,1344.97 L282.88,1344.17 L282.90,1343.37 L282.92,1342.57 L282.94,1341.77 L282.96,1340.97 L282.98,1340.17 L283.00,1339.37 L283.03,1338.57 L283.05,1337.76 L283.07,1336.96 L283.09,1336.16 L283.11,1335.36 L283.13,1334.56 L283.16,1333.76 L283.18,1332.96 L283.20,1332.16 L283.22,1331.36 L283.25,1330.56 L283.27,1329.75 L283.29,1328.95 L283.32,1328.15 L283.34,1327.35 L283.37,1326.55 L283.39,1325.75 L283.42,1324.95 L283.44,1324.15 L283.47,1323.35 L283.49,1322.54 L283.52,1321.74 L283.54,1320.94 L283.57,1320.14 L283.60,1319.34 L283.63,1318.54 L283.65,1317.74 L283.68,1316.94 L283.71,1316.13 L283.74,1315.33 L283.77,1314.53 L283.79,1313.73 L283.82,1312.93 L283.85,1312.13 L283.88,1311.33 L283.91,1310.53 L283.94,1309.73 L283.96,1308.93 L283.99,1308.13 L284.02,1307.33 L284.05,1306.53 L284.08,1305.73 L284.11,1304.93 L284.13,1304.13 L284.16,1303.33 L284.19,1302.53 L284.22,1301.73 L284.25,1300.94 L284.27,1300.14 L284.30,1299.34 L284.33,1298.54 L284.36,1297.74 L284.39,1296.95 L284.42,1296.15 L284.46,1295.35 L284.49,1294.55 L284.52,1293.75 L284.56,1292.95 L284.60,1292.15 L284.64,1291.35 L284.68,1290.55 L284.73,1289.75 L284.77,1288.95 L284.82,1288.15 L284.88,1287.34 L284.93,1286.54 L284.99,1285.74 L285.05,1284.93 L285.11,1284.12 L285.18,1283.32 L285.25,1282.51 L285.33,1281.70 L285.41,1280.89 L285.50,1280.06 L285.63,1279.22 L285.78,1278.34 L285.97,1277.44 L286.21,1276.58 L286.47,1276.01 L286.74,1275.96 L287.00,1276.44 L287.23,1277.24 L287.42,1278.14 L287.57,1279.06 L287.69,1279.98 L287.79,1280.89 L287.87,1281.78 L287.96,1282.62 L288.03,1283.43 L288.11,1284.22 L288.17,1284.99 L288.23,1285.76 L288.27,1286.53 L288.30,1287.32 L288.32,1288.12 L288.34,1288.93 L288.36,1289.74 L288.38,1290.55 L288.41,1291.36 L288.45,1292.16 L288.49,1292.97 L288.54,1293.77 L288.59,1294.57 L288.65,1295.37 L288.71,1296.17 L288.77,1296.97 L288.83,1297.77 L288.89,1298.56 L288.95,1299.36 L289.01,1300.16 L289.07,1300.95 L289.12,1301.75 L289.17,1302.55 L289.22,1303.35 L289.26,1304.14 L289.29,1304.94 L289.33,1305.74 L289.35,1306.54 L289.38,1307.34 L289.40,1308.14 L289.42,1308.95 L289.44,1309.75 L289.45,1310.55 L289.47,1311.35 L289.49,1312.15 L289.50,1312.95 L289.52,1313.76 L289.54,1314.56 L289.56,1315.36 L289.58,1316.16 L289.60,1316.96 L289.63,1317.76 L289.65,1318.56 L289.67,1319.36 L289.70,1320.16 L289.72,1320.97 L289.75,1321.77 L289.78,1322.57 L289.80,1323.37 L289.83,1324.17 L289.86,1324.97 L289.89,1325.77 L289.92,1326.57 L289.95,1327.37 L289.98,1328.17 L290.01,1328.97 L290.04,1329.77 L290.07,1330.57 L290.10,1331.37 L290.14,1332.17 L290.17,1332.97 L290.20,1333.77 L290.23,1334.57 L290.27,1335.37 L290.30,1336.17 L290.33,1336.97 L290.37,1337.77 L290.40,1338.57 L290.43,1339.37 L290.47,1340.17 L290.50,1340.97 L290.53,1341.77 L290.57,1342.57 L290.60,1343.37 L290.63,1344.17 L290.67,1344.97 L290.70,1345.77 L290.73,1346.57 L290.76,1347.38 L290.80,1348.18 L290.83,1348.98 L290.86,1349.78 L290.89,1350.58 L290.92,1351.38 L290.95,1352.18 L290.98,1352.98 L291.01,1353.78 L291.04,1354.58 L291.07,1355.38 L291.10,1356.18 L291.13,1356.98 L291.16,1357.78 L291.19,1358.58 L291.21,1359.38 L291.24,1360.18 L291.27,1360.98 L291.29,1361.78 L291.32,1362.58 L291.35,1363.38 L291.37,1364.18 L291.40,1364.98 L291.43,1365.78 L291.45,1366.59 L291.48,1367.39 L291.50,1368.19 L291.53,1368.99 L291.55,1369.79 L291.58,1370.59 L291.60,1371.39 L291.62,1372.19 L291.65,1372.99 L291.67,1373.79 L291.70,1374.59 L291.72,1375.39 L291.74,1376.19 L291.76,1377.00 L291.79,1377.80 L291.81,1378.60 L291.83,1379.40 L291.86,1380.20 L291.88,1381.00 L291.90,1381.80 L291.92,1382.60 L291.94,1383.40 L291.97,1384.20 L291.99,1385.00 L292.01,1385.80 L292.03,1386.61 L292.05,1387.41 L292.07,1388.21 L292.10,1389.01 L292.12,1389.81 L292.14,1390.61 L292.16,1391.41 L292.18,1392.21 L292.20,1393.01 L292.22,1393.81 L292.24,1394.61 L292.26,1395.42 L292.29,1396.22 L292.31,1397.02 L292.33,1397.82 L292.35,1398.62 L292.37,1399.42 L292.39,1400.22 L292.41,1401.02 L292.43,1401.82 L292.45,1402.62 L292.47,1403.43 L292.50,1404.23 L292.52,1405.03 L292.54,1405.83 L292.56,1406.63 L292.58,1407.43 L292.60,1408.23 L292.62,1409.03 L292.64,1409.83 L292.67,1410.63 L292.69,1411.43 L292.71,1412.23 L292.73,1413.04 L292.75,1413.84 L292.77,1414.64 L292.80,1415.44 L292.82,1416.24 L292.84,1417.04 L292.86,1417.84 L292.89,1418.64 L292.91,1419.44 L292.93,1420.24 L292.95,1421.04 L292.98,1421.84 L293.00,1422.64 L293.02,1423.44 L293.05,1424.24 L293.07,1425.05 L293.10,1425.85 L293.12,1426.65 L293.14,1427.45 L293.17,1428.25 L293.19,1429.05 L293.22,1429.85 L293.24,1430.65 L293.27,1431.45 L293.29,1432.25 L293.32,1433.05 L293.34,1433.85 L293.37,1434.65 L293.39,1435.45 L293.42,1436.25 L293.45,1437.05 L293.47,1437.85 L293.50,1438.65 L293.52,1439.45 L293.55,1440.25 L293.58,1441.05 L293.60,1441.85 L293.63,1442.65 L293.66,1443.45 L293.68,1444.25 L293.71,1445.06 L293.74,1445.86 L293.76,1446.66 L293.79,1447.46 L293.82,1448.26 L293.84,1449.06 L293.87,1449.86 L293.90,1450.66 L293.92,1451.46 L293.95,1452.26 L293.98,1453.06 L294.01,1453.86 L294.03,1454.66 L294.06,1455.46 L294.09,1456.26 L294.12,1457.06 L294.14,1457.86 L294.17,1458.66 L294.20,1459.46 L294.23,1460.26 L294.25,1461.06 L294.28,1461.86 L294.31,1462.66 L294.34,1463.46 L294.36,1464.26 L294.39,1465.06 L294.42,1465.86 L294.45,1466.66 L294.47,1467.46 L294.50,1468.26 L294.53,1469.06 L294.56,1469.87 L294.58,1470.67 L294.61,1471.47 L294.64,1472.27 L294.67,1473.07 L294.69,1473.87 L294.72,1474.67 L294.75,1475.47 L294.77,1476.27 L294.80,1477.07 L294.83,1477.87 L294.86,1478.67 L294.88,1479.47 L294.91,1480.27 L294.94,1481.07 L294.96,1481.87 L294.99,1482.67 L295.02,1483.47 L295.04,1484.28 L295.07,1485.08 L295.10,1485.88 L295.12,1486.68 L295.15,1487.48 L295.17,1488.28 L295.20,1489.08 L295.23,1489.88 L295.25,1490.68 L295.28,1491.48 L295.30,1492.28 L295.33,1493.08 L295.35,1493.88 L295.38,1494.69 L295.40,1495.49 L295.43,1496.29 L295.45,1497.09 L295.48,1497.89 L295.50,1498.69 L295.53,1499.49 L295.55,1500.29 L295.58,1501.09 L295.60,1501.90 L295.63,1502.70 L295.65,1503.50 L295.68,1504.30 L295.70,1505.10 L295.73,1505.90 L295.75,1506.70 L295.78,1507.50 L295.80,1508.30 L295.83,1509.11 L295.86,1509.91 L295.88,1510.71 L295.91,1511.51 L295.94,1512.31 L295.97,1513.11 L295.99,1513.91 L296.02,1514.71 L296.05,1515.51 L296.08,1516.32 L296.11,1517.12 L296.14,1517.92 L296.17,1518.72 L296.21,1519.52 L296.24,1520.32 L296.27,1521.12 L296.31,1521.92 L296.34,1522.72 L296.38,1523.52 L296.41,1524.32 L296.45,1525.12 L296.48,1525.92 L296.52,1526.72 L296.56,1527.52 L296.60,1528.32 L296.64,1529.12 L296.68,1529.92 L296.73,1530.72 L296.77,1531.52 L296.82,1532.32 L296.86,1533.12 L296.91,1533.92 L296.95,1534.72 L297.00,1535.52 L297.05,1536.32 L297.10,1537.12 L297.16,1537.92 L297.21,1538.71 L297.26,1539.51 L297.32,1540.31 L297.38,1541.11 L297.43,1541.91 L297.49,1542.71 L297.55,1543.51 L297.62,1544.30 L297.68,1545.10 L297.74,1545.90 L297.81,1546.70 L297.88,1547.49 L297.95,1548.29 L298.02,1549.09 L298.09,1549.89 L298.16,1550.68 L298.24,1551.48 L298.32,1552.28 L298.40,1553.07 L298.48,1553.87 L298.56,1554.67 L298.64,1555.46 L298.73,1556.26 L298.81,1557.05 L298.90,1557.85 L298.99,1558.64 L299.08,1559.44 L299.18,1560.23 L299.27,1561.03 L299.37,1561.82 L299.47,1562.62 L299.57,1563.41 L299.68,1564.21 L299.78,1565.00 L299.89,1565.79 L300.00,1566.59 L300.11,1567.38 L300.23,1568.17 L300.34,1568.97 L300.46,1569.76 L300.58,1570.55 L300.70,1571.34 L300.83,1572.14 L300.95,1572.93 L301.08,1573.72 L301.21,1574.51 L301.35,1575.30 L301.48,1576.09 L301.62,1576.88 L301.76,1577.67 L301.90,1578.46 L302.04,1579.25 L302.19,1580.04 L302.33,1580.83 L302.48,1581.61 L302.63,1582.40 L302.78,1583.19 L302.94,1583.97 L303.09,1584.76 L303.25,1585.54 L303.41,1586.32 L303.56,1587.10 L303.73,1587.89 L303.89,1588.67 L304.05,1589.45 L304.22,1590.23 L304.39,1591.00 L304.55,1591.78 L304.72,1592.56 L304.89,1593.33 L305.07,1594.11 L305.24,1594.88 L305.41,1595.65 L305.59,1596.42 L305.78,1597.20 L305.97,1597.97 L306.17,1598.75 L306.38,1599.53 L306.59,1600.31 L306.83,1601.10 L307.07,1601.90 L307.33,1602.70 L307.61,1603.51 L307.91,1604.32 L308.23,1605.14 L308.58,1605.94 L308.99,1606.54 L309.50,1606.79 L310.12,1606.55 L310.73,1605.98 L311.19,1605.23 L311.48,1604.41 L311.65,1603.56 L311.77,1602.72 L311.88,1601.90 L311.99,1601.10 L312.09,1600.31 L312.19,1599.54 L312.30,1598.78 L312.40,1598.01 L312.50,1597.25 L312.60,1596.48 L312.71,1595.71 L312.82,1594.91 L312.93,1594.11 L313.04,1593.30 L313.14,1592.49 L313.24,1591.67 L313.33,1590.85 L313.41,1590.04 L313.49,1589.23 L313.55,1588.43 L313.61,1587.62 L313.66,1586.82 L313.71,1586.02 L313.75,1585.22 L313.79,1584.43 L313.83,1583.63 L313.87,1582.84 L313.92,1582.04 L313.96,1581.25 L314.01,1580.45 L314.06,1579.65 L314.11,1578.86 L314.17,1578.06 L314.22,1577.26 L314.28,1576.47 L314.34,1575.67 L314.41,1574.87 L314.47,1574.07 L314.54,1573.28 L314.60,1572.48 L314.67,1571.68 L314.74,1570.88 L314.81,1570.08 L314.88,1569.28 L314.95,1568.49 L315.02,1567.69 L315.09,1566.89 L315.16,1566.09 L315.22,1565.29 L315.29,1564.49 L315.36,1563.69 L315.43,1562.89 L315.49,1562.09 L315.56,1561.30 L315.63,1560.50 L315.69,1559.70 L315.75,1558.90 L315.82,1558.10 L315.88,1557.30 L315.94,1556.50 L316.00,1555.70 L316.06,1554.90 L316.12,1554.10 L316.18,1553.30 L316.23,1552.50 L316.29,1551.71 L316.35,1550.91 L316.40,1550.11 L316.46,1549.31 L316.51,1548.51 L316.57,1547.71 L316.62,1546.91 L316.67,1546.11 L316.73,1545.31 L316.78,1544.51 L316.83,1543.71 L316.88,1542.91 L316.93,1542.11 L316.98,1541.32 L317.03,1540.52 L317.08,1539.72 L317.13,1538.92 L317.18,1538.12 L317.23,1537.32 L317.28,1536.52 L317.32,1535.72 L317.37,1534.92 L317.42,1534.12 L317.46,1533.32 L317.51,1532.52 L317.56,1531.72 L317.60,1530.92 L317.65,1530.12 L317.69,1529.32 L317.74,1528.53 L317.78,1527.73 L317.83,1526.93 L317.87,1526.13 L317.91,1525.33 L317.96,1524.53 L318.00,1523.73 L318.05,1522.93 L318.09,1522.13 L318.13,1521.33 L318.18,1520.53 L318.22,1519.73 L318.26,1518.93 L318.30,1518.13 L318.35,1517.33 L318.39,1516.53 L318.43,1515.73 L318.48,1514.93 L318.52,1514.13 L318.56,1513.33 L318.61,1512.53 L318.65,1511.73 L318.69,1510.93 L318.74,1510.13 L318.78,1509.33 L318.82,1508.53 L318.87,1507.74 L318.91,1506.94 L318.95,1506.14 L319.00,1505.34 L319.04,1504.54 L319.09,1503.74 L319.13,1502.94 L319.18,1502.14 L319.22,1501.34 L319.27,1500.54 L319.31,1499.74 L319.36,1498.94 L319.40,1498.14 L319.45,1497.34 L319.50,1496.54 L319.54,1495.74 L319.59,1494.94 L319.64,1494.14 L319.69,1493.34 L319.74,1492.54 L319.78,1491.74 L319.83,1490.94 L319.88,1490.14 L319.93,1489.34 L319.98,1488.54 L320.04,1487.74 L320.09,1486.94 L320.14,1486.14 L320.19,1485.34 L320.24,1484.54 L320.30,1483.74 L320.35,1482.94 L320.41,1482.14 L320.46,1481.34 L320.52,1480.54 L320.58,1479.74 L320.64,1478.94 L320.70,1478.14 L320.77,1477.34 L320.83,1476.55 L320.90,1475.75 L320.97,1474.96 L321.04,1474.17 L321.11,1473.37 L321.19,1472.58 L321.27,1471.79 L321.35,1471.00 L321.44,1470.21 L321.52,1469.41 L321.61,1468.62 L321.71,1467.82 L321.80,1467.02 L321.90,1466.22 L322.01,1465.41 L322.11,1464.60 L322.22,1463.79 L322.34,1462.97 L322.45,1462.15 L322.58,1461.32 L322.71,1460.49 L322.87,1459.65 L323.05,1458.80 L323.27,1457.95 L323.54,1457.09 L323.84,1456.38 L324.16,1456.02 L324.50,1456.20 L324.83,1456.81 L325.13,1457.63 L325.36,1458.52 L325.55,1459.42 L325.71,1460.33 L325.85,1461.22 L325.98,1462.10 L326.11,1462.94 L326.26,1463.74 L326.41,1464.51 L326.56,1465.27 L326.69,1466.02 L326.81,1466.77 L326.90,1467.54 L326.97,1468.33 L327.02,1469.12 L327.07,1469.92 L327.11,1470.73 L327.16,1471.53 L327.20,1472.34 L327.26,1473.14 L327.31,1473.94 L327.37,1474.75 L327.42,1475.55 L327.48,1476.35 L327.55,1477.15 L327.61,1477.95 L327.68,1478.75 L327.74,1479.55 L327.81,1480.35 L327.88,1481.15 L327.95,1481.94 L328.01,1482.74 L328.08,1483.54 L328.15,1484.34 L328.22,1485.14 L328.29,1485.93 L328.35,1486.73 L328.42,1487.53 L328.48,1488.33 L328.55,1489.13 L328.61,1489.92 L328.67,1490.72 L328.73,1491.52 L328.78,1492.32 L328.83,1493.12 L328.89,1493.92 L328.93,1494.71 L328.98,1495.51 L329.02,1496.31 L329.07,1497.11 L329.11,1497.91 L329.15,1498.71 L329.18,1499.51 L329.22,1500.31 L329.25,1501.11 L329.29,1501.91 L329.32,1502.71 L329.35,1503.52 L329.38,1504.32 L329.41,1505.12 L329.44,1505.92 L329.47,1506.72 L329.50,1507.52 L329.53,1508.32 L329.55,1509.12 L329.58,1509.92 L329.61,1510.72 L329.64,1511.52 L329.67,1512.32 L329.70,1513.13 L329.73,1513.93 L329.76,1514.73 L329.79,1515.53 L329.82,1516.33 L329.85,1517.13 L329.88,1517.93 L329.91,1518.73 L329.95,1519.53 L329.98,1520.33 L330.01,1521.13 L330.04,1521.93 L330.08,1522.73 L330.11,1523.53 L330.14,1524.33 L330.18,1525.13 L330.21,1525.93 L330.24,1526.73 L330.28,1527.53 L330.31,1528.33 L330.35,1529.13 L330.38,1529.94 L330.42,1530.74 L330.45,1531.54 L330.49,1532.34 L330.53,1533.14 L330.56,1533.94 L330.60,1534.74 L330.64,1535.54 L330.67,1536.34 L330.71,1537.14 L330.75,1537.94 L330.78,1538.74 L330.82,1539.54 L330.86,1540.34 L330.90,1541.14 L330.94,1541.94 L330.97,1542.74 L331.01,1543.54 L331.05,1544.34 L331.09,1545.13 L331.13,1545.93 L331.17,1546.73 L331.21,1547.53 L331.25,1548.33 L331.29,1549.13 L331.33,1549.93 L331.37,1550.73 L331.41,1551.53 L331.45,1552.33 L331.49,1553.13 L331.53,1553.93 L331.57,1554.73 L331.61,1555.53 L331.65,1556.33 L331.70,1557.13 L331.74,1557.93 L331.78,1558.73 L331.82,1559.53 L331.86,1560.33 L331.90,1561.13 L331.95,1561.93 L331.99,1562.73 L332.03,1563.53 L332.07,1564.33 L332.12,1565.13 L332.16,1565.93 L332.20,1566.73 L332.24,1567.53 L332.29,1568.33 L332.33,1569.13 L332.37,1569.93 L332.42,1570.73 L332.46,1571.53 L332.50,1572.33 L332.55,1573.13 L332.59,1573.93 L332.63,1574.72 L332.68,1575.52 L332.72,1576.32 L332.76,1577.12 L332.81,1577.92 L332.85,1578.72 L332.89,1579.52 L332.94,1580.32 L332.98,1581.12 L333.02,1581.92 L333.07,1582.72 L333.11,1583.52 L333.16,1584.32 L333.20,1585.12 L333.24,1585.92 L333.29,1586.72 L333.33,1587.52 L333.38,1588.32 L333.42,1589.12 L333.46,1589.92 L333.51,1590.72 L333.55,1591.52 L333.60,1592.32 L333.64,1593.12 L333.69,1593.92 L333.73,1594.72 L333.77,1595.52 L333.82,1596.32 L333.86,1597.12 L333.91,1597.92 L333.95,1598.72 L334.00,1599.52 L334.04,1600.32 L334.09,1601.12 L334.13,1601.92 L334.18,1602.72 L334.23,1603.52 L334.27,1604.32 L334.32,1605.12 L334.36,1605.92 L334.41,1606.72 L334.46,1607.52 L334.50,1608.32 L334.55,1609.12 L334.60,1609.92 L334.65,1610.72 L334.70,1611.52 L334.74,1612.32 L334.79,1613.12 L334.84,1613.92 L334.89,1614.72 L334.94,1615.52 L334.99,1616.32 L335.04,1617.12 L335.09,1617.92 L335.14,1618.72 L335.19,1619.52 L335.24,1620.32 L335.30,1621.11 L335.35,1621.91 L335.40,1622.71 L335.45,1623.51 L335.51,1624.31 L335.56,1625.11 L335.62,1625.91 L335.67,1626.71 L335.73,1627.51 L335.78,1628.31 L335.84,1629.11 L335.90,1629.91 L335.95,1630.70 L336.01,1631.50 L336.07,1632.30 L336.13,1633.10 L336.19,1633.90 L336.25,1634.70 L336.31,1635.50 L336.37,1636.29 L336.43,1637.09 L336.49,1637.89 L336.55,1638.69 L336.62,1639.49 L336.68,1640.29 L336.74,1641.08 L336.81,1641.88 L336.87,1642.68 L336.94,1643.48 L337.01,1644.28 L337.07,1645.07 L337.14,1645.87 L337.21,1646.67 L337.28,1647.47 L337.35,1648.26 L337.42,1649.06 L337.49,1649.86 L337.56,1650.65 L337.64,1651.45 L337.71,1652.25 L337.79,1653.05 L337.86,1653.84 L337.94,1654.64 L338.01,1655.44 L338.09,1656.23 L338.17,1657.03 L338.25,1657.82 L338.33,1658.62 L338.41,1659.42 L338.49,1660.21 L338.57,1661.01 L338.65,1661.80 L338.74,1662.60 L338.82,1663.40 L338.91,1664.19 L339.00,1664.99 L339.08,1665.78 L339.17,1666.58 L339.26,1667.37 L339.35,1668.17 L339.44,1668.96 L339.54,1669.76 L339.63,1670.55 L339.73,1671.35 L339.83,1672.14 L339.94,1672.93 L340.04,1673.73 L340.15,1674.52 L340.26,1675.32 L340.37,1676.11 L340.48,1676.90 L340.60,1677.70 L340.73,1678.49 L340.85,1679.28 L340.98,1680.08 L341.11,1680.87 L341.25,1681.66 L341.39,1682.46 L341.53,1683.25 L341.68,1684.04 L341.83,1684.83 L341.99,1685.63 L342.15,1686.42 L342.32,1687.21 L342.49,1688.00 L342.67,1688.79 L342.87,1689.57 L343.08,1690.35 L343.30,1691.11 L343.55,1691.87 L343.82,1692.61 L344.12,1693.34 L344.44,1694.05 L344.80,1694.74 L345.19,1695.41 L345.62,1696.06 L346.09,1696.69 L346.60,1697.28 L347.15,1697.86 L347.75,1698.40 L348.38,1698.92 L349.04,1699.43 L349.71,1699.93 L350.39,1700.42 L351.06,1700.92 L351.71,1701.42 L352.35,1701.95 L352.95,1702.49 L353.52,1703.05 L354.07,1703.62 L354.60,1704.20 L355.12,1704.80 L355.63,1705.40 L356.14,1706.00 L356.65,1706.59 L357.17,1707.19 L357.71,1707.77 L358.27,1708.34 L358.85,1708.90 L359.47,1709.44 L360.10,1709.95 L360.77,1710.44 L361.45,1710.90 L362.15,1711.33 L362.87,1711.72 L363.61,1712.07 L364.36,1712.38 L365.12,1712.64 L365.89,1712.85 L366.66,1713.00 L367.44,1713.10 L368.23,1713.13 L369.01,1713.10 L369.80,1713.01 L370.58,1712.85 L371.36,1712.67 L372.14,1712.47 L372.92,1712.28 L373.70,1712.12 L374.48,1712.02 L375.26,1711.99 L376.05,1712.06 L376.83,1712.25 L377.62,1712.58 L378.41,1713.06 L379.20,1713.62 L380.00,1714.13 L380.79,1714.48 L381.59,1714.55 L382.40,1714.40 L383.20,1714.11 L384.00,1713.77 L384.81,1713.49 L385.61,1713.36 L386.40,1713.46 L387.20,1713.90" fill="none" stroke="#ff0000" stroke-width="1.75" stroke-linejoin="round" stroke-linecap="round"/>
<rect x="121.20" y="1257.80" width="669.90" height="474.20" fill="none" stroke="#000" stroke-width="1.8" stroke-linejoin="round"/>
<line x1="105.0" y1="1714.40" x2="121.20" y2="1714.40" stroke="#000" stroke-width="1.8"/>
<text x="77.33" y="1724.51" font-size="29.5" fill="#000" font-weight="normal" transform="matrix(1 0 0 1.055 0 -94.848)">0</text>
<line x1="105.0" y1="1629.40" x2="121.20" y2="1629.40" stroke="#000" stroke-width="1.8"/>
<text x="60.96" y="1639.51" font-size="29.5" fill="#000" font-weight="normal" transform="matrix(1 0 0 1.055 0 -90.173)">50</text>
<line x1="105.0" y1="1544.40" x2="121.20" y2="1544.40" stroke="#000" stroke-width="1.8"/>
<text x="44.52" y="1554.51" font-size="29.5" fill="#000" font-weight="normal" transform="matrix(1 0 0 1.055 0 -85.498)">100</text>
<line x1="105.0" y1="1459.40" x2="121.20" y2="1459.40" stroke="#000" stroke-width="1.8"/>
<text x="44.52" y="1469.51" font-size="29.5" fill="#000" font-weight="normal" transform="matrix(1 0 0 1.055 0 -80.823)">150</text>
<line x1="105.0" y1="1374.40" x2="121.20" y2="1374.40" stroke="#000" stroke-width="1.8"/>
<text x="44.52" y="1384.51" font-size="29.5" fill="#000" font-weight="normal" transform="matrix(1 0 0 1.055 0 -76.148)">200</text>
<line x1="105.0" y1="1289.40" x2="121.20" y2="1289.40" stroke="#000" stroke-width="1.8"/>
<text x="44.52" y="1299.51" font-size="29.5" fill="#000" font-weight="normal" transform="matrix(1 0 0 1.055 0 -71.473)">250</text>
<line x1="216.70" y1="1732.00" x2="216.70" y2="1748.00" stroke="#000" stroke-width="1.8"/>
<text x="187.97" y="1781.40" font-size="29.5" fill="#000" font-weight="normal" transform="matrix(1 0 0 1.055 0 -97.977)">0.00</text>
<line x1="379.06" y1="1732.00" x2="379.06" y2="1748.00" stroke="#000" stroke-width="1.8"/>
<text x="350.52" y="1781.40" font-size="29.5" fill="#000" font-weight="normal" transform="matrix(1 0 0 1.055 0 -97.977)">0.02</text>
<line x1="541.42" y1="1732.00" x2="541.42" y2="1748.00" stroke="#000" stroke-width="1.8"/>
<text x="512.55" y="1781.40" font-size="29.5" fill="#000" font-weight="normal" transform="matrix(1 0 0 1.055 0 -97.977)">0.04</text>
<line x1="703.78" y1="1732.00" x2="703.78" y2="1748.00" stroke="#000" stroke-width="1.8"/>
<text x="675.13" y="1781.40" font-size="29.5" fill="#000" font-weight="normal" transform="matrix(1 0 0 1.055 0 -97.977)">0.06</text>
<text x="180.76" y="1823.70" font-size="29.6" fill="#000" font-weight="normal" textLength="549.64" lengthAdjust="spacing" >Rate of evolution of syllable repertoire size</text>
<text x="-155.64" y="0.00" font-size="29.6" fill="#000" font-weight="normal" textLength="309.85" lengthAdjust="spacing" transform="translate(23.9,1488.40) rotate(-90)">Number of observations</text>
<text x="-1.00" y="1270.00" font-size="42" font-weight="bold">c</text>
<g transform="translate(79.10,1245.80)" fill="#000">
<text x="264.23" y="76.1" font-size="25.0" font-style="italic">p</text>
<rect x="285.1" y="66.00" width="12.9" height="1.8"/>
<rect x="285.1" y="70.90" width="12.9" height="1.8"/>
<text x="305.40" y="76.04" font-size="25.0" textLength="62.98" lengthAdjust="spacing" transform="matrix(1 0 0 1.034 0 -2.585)">0.116</text>
</g>
<rect x="509.20" y="1257.80" width="282.10" height="142.20" fill="#fff" stroke="#000" stroke-width="1.8"/>
<line x1="535.00" y1="1293.60" x2="590.00" y2="1293.60" stroke="#0000ff" stroke-width="1.75"/>
<text x="614.92" y="1301.60" font-size="25.2" fill="#000" font-weight="normal" textLength="103.36" lengthAdjust="spacing" >Low EPP</text>
<line x1="535.00" y1="1329.20" x2="590.00" y2="1329.20" stroke="#ff0000" stroke-width="1.75"/>
<text x="614.92" y="1337.20" font-size="25.2" fill="#000" font-weight="normal" textLength="108.72" lengthAdjust="spacing" >High EPP</text>
<line x1="535.85" y1="1364.80" x2="587.70" y2="1364.80" stroke="#000" stroke-width="1.7" stroke-dasharray="5.0 9.9" stroke-linecap="round"/>
<text x="614.92" y="1372.80" font-size="25.2" fill="#000" font-weight="normal" textLength="126.73" lengthAdjust="spacing" >Equal rates</text>
</svg>
</body></html>
